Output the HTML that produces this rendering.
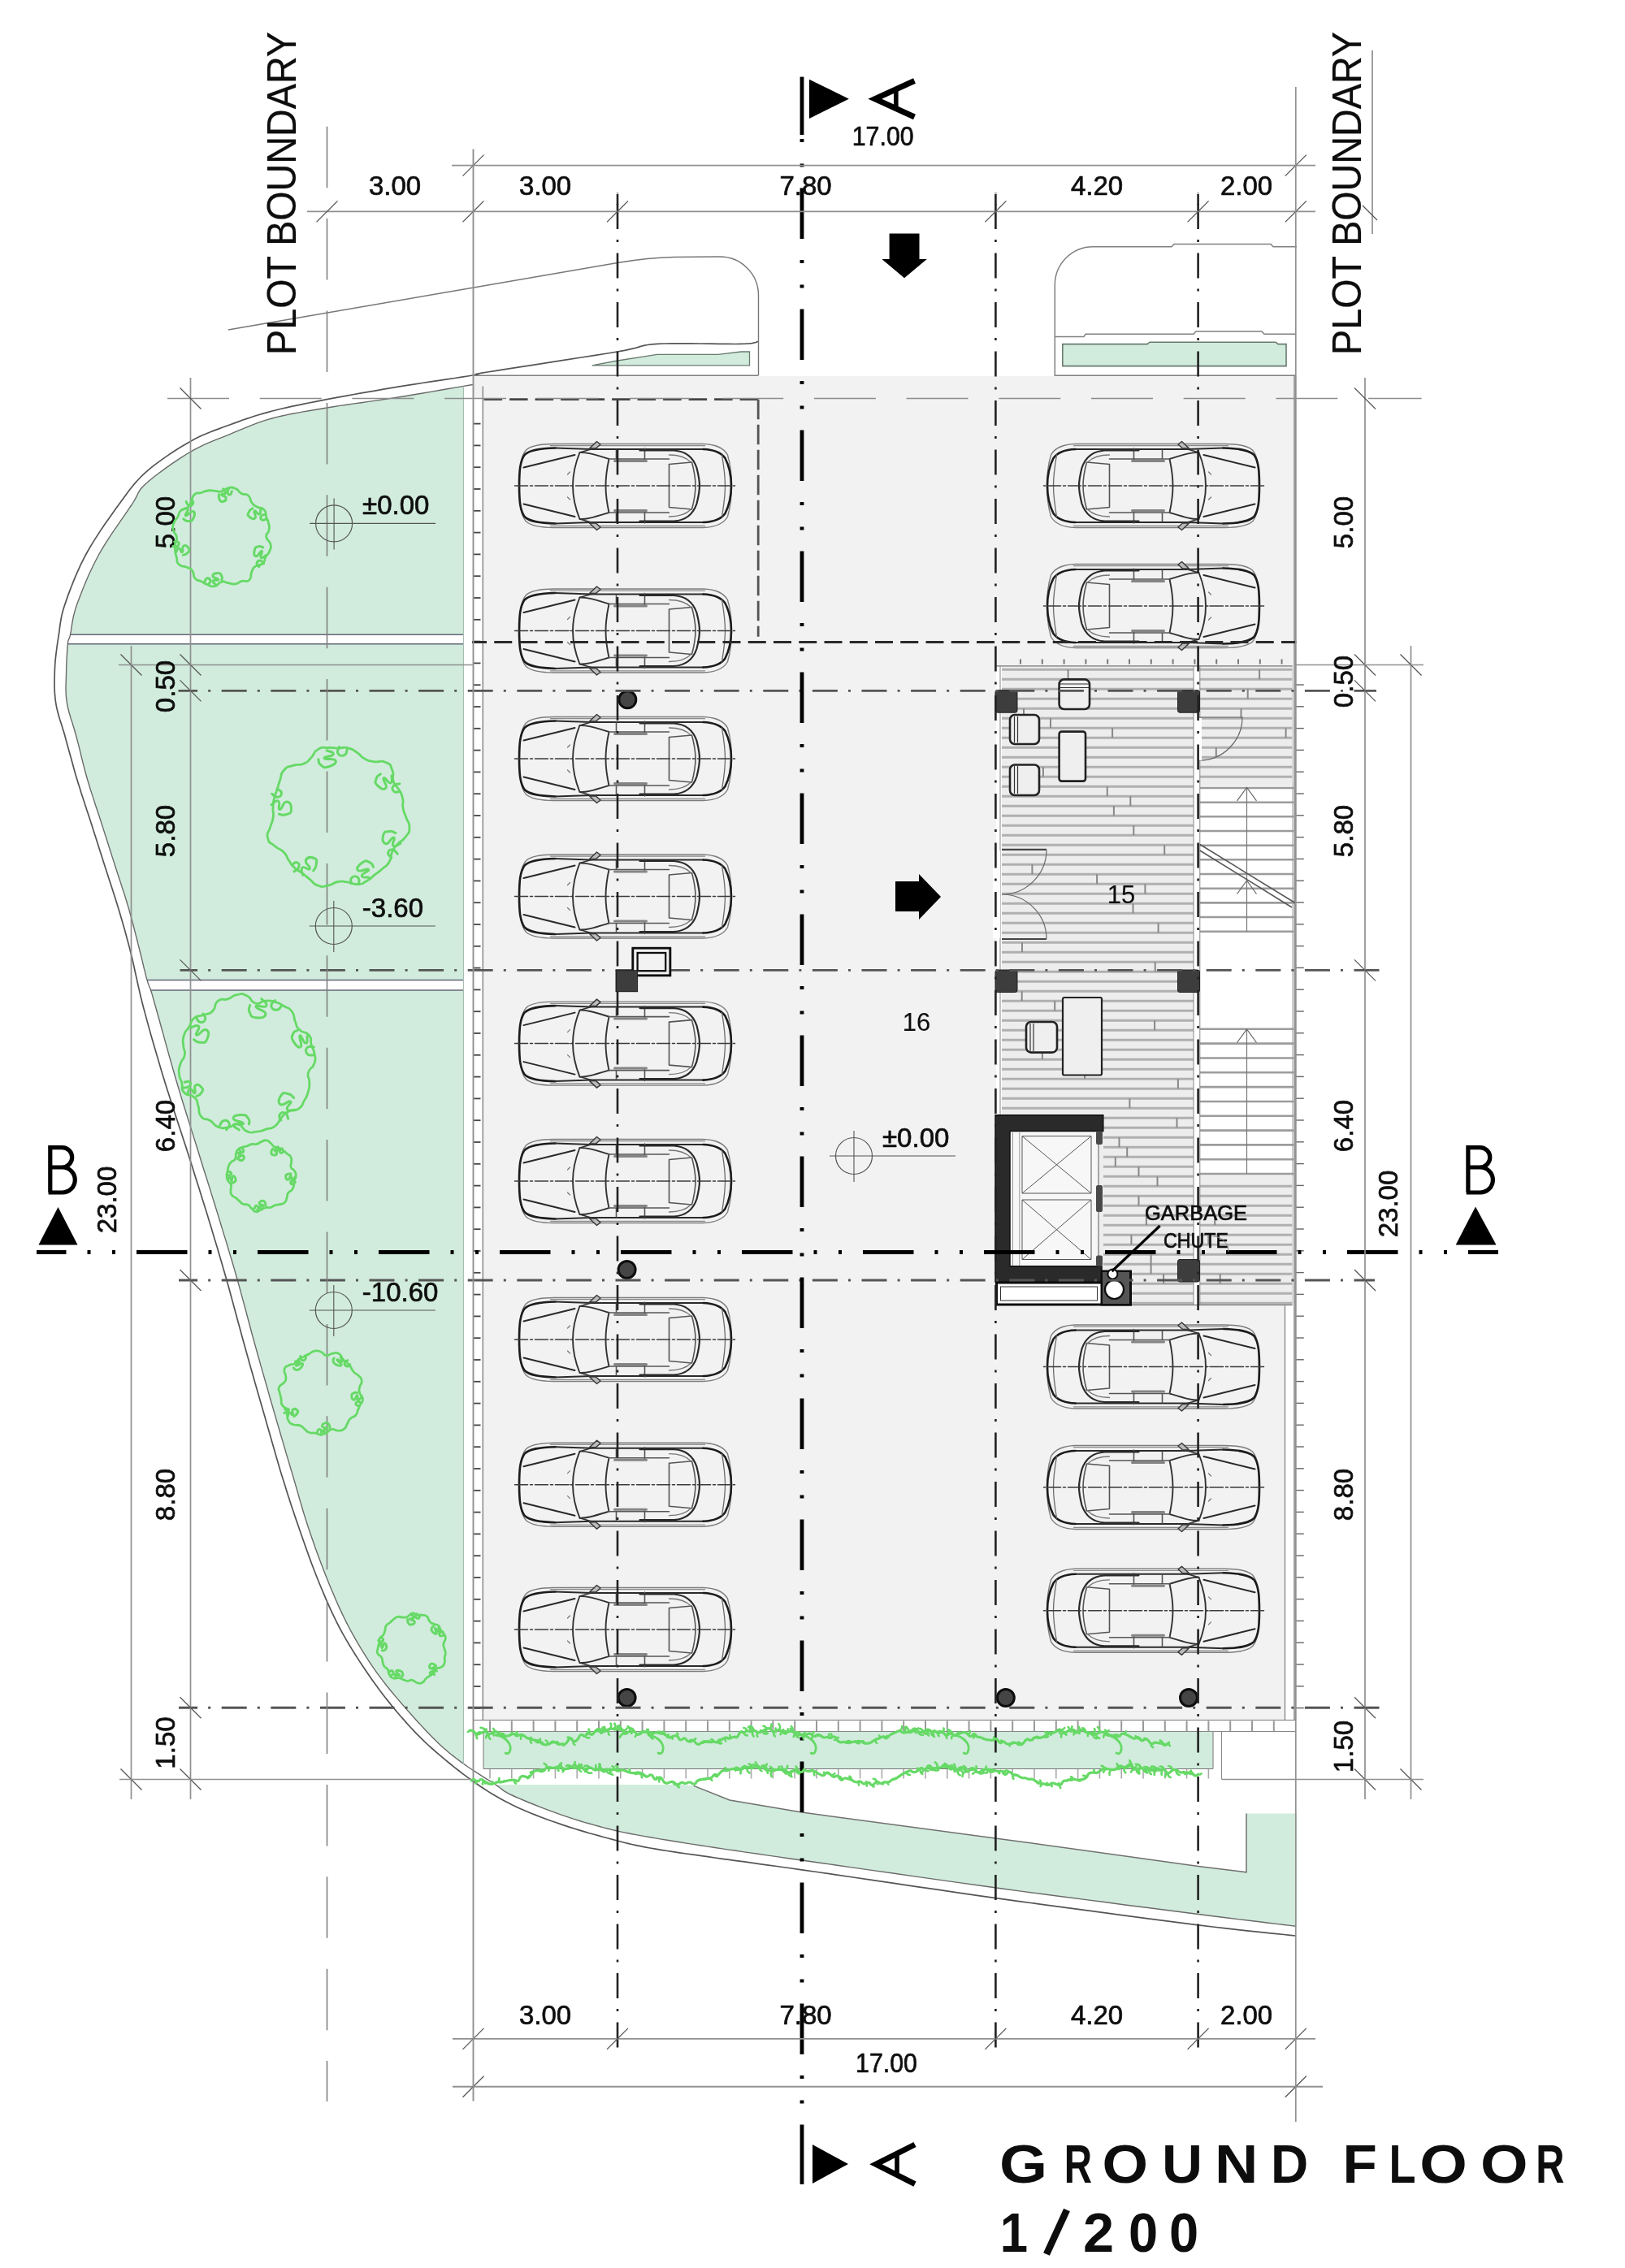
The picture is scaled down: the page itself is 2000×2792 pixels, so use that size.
<!DOCTYPE html>
<html><head><meta charset="utf-8"><title>Ground Floor 1/200</title>
<style>html,body{margin:0;padding:0;background:#fff}svg{display:block}text{font-family:"Liberation Sans",sans-serif}</style>
</head><body>
<svg width="2000" height="2792" viewBox="0 0 2000 2792">
<defs><filter id="soft" x="0" y="0" width="100%" height="100%" filterUnits="objectBoundingBox"><feGaussianBlur stdDeviation="0.65"/></filter></defs>
<rect width="2000" height="2792" fill="#fff"/>
<g filter="url(#soft)">
<rect width="2000" height="2792" fill="#fff"/>
<path d="M570.3,475.4 L561.8,476.9 L552.2,478.5 L542,480.3 L531.3,482.1 L520.4,484 L509.7,485.8 L499.5,487.5 L490,489 L480.9,490.4 L471.8,491.8 L462.7,493.1 L453.6,494.4 L444.5,495.7 L435.7,496.9 L426.9,498.2 L418.4,499.4 L410.2,500.7 L402.3,502 L394.7,503.3 L387.3,504.5 L380.1,505.7 L373.2,506.9 L366.4,508.1 L359.8,509.3 L353.4,510.6 L347.1,512 L341,513.4 L335,515 L329.2,516.7 L323.6,518.4 L318.3,520.2 L313.1,522.1 L308.1,524.1 L303.1,526.1 L298.2,528.1 L293.3,530.2 L288.4,532.2 L283.4,534.3 L278.4,536.3 L273.5,538.3 L268.7,540.2 L263.8,542.1 L259,544.1 L254.2,546.2 L249.3,548.4 L244.4,550.8 L239.4,553.4 L234.3,556.3 L228.9,559.5 L223.2,563.2 L217.2,567.1 L211.2,571.2 L205.2,575.4 L199.4,579.6 L193.8,583.8 L188.6,587.8 L184,591.5 L180,595 L176.8,598 L174.4,600.5 L172.6,602.7 L171.3,604.8 L170.1,606.8 L169.1,609 L167.9,611.4 L166.5,614.2 L164.5,617.5 L162,621.5 L158.8,626.2 L155.1,631.6 L151.1,637.4 L146.8,643.6 L142.3,650.1 L137.8,656.7 L133.4,663.4 L129.1,670.1 L125.1,676.7 L121.5,683 L118.2,689.3 L114.9,695.7 L111.8,702.3 L108.8,708.8 L106,715.3 L103.3,721.7 L100.8,727.9 L98.5,733.9 L96.4,739.4 L94.5,744.6 L92.9,749.4 L91.6,754 L90.5,758.3 L89.7,762.4 L89,766.2 L88.4,769.8 L87.9,773.1 L87.5,776.2 L87,779 L86.5,781.5 L86,783.5 L85.5,785 L85.2,785.9 L84.8,786.6 L84.6,787.1 L84.3,787.6 L84.1,788.2 L83.9,789.2 L83.6,790.6 L83.4,792.7 L83.1,795.4 L82.9,798.5 L82.7,802.1 L82.4,805.9 L82.2,809.9 L82,814 L81.8,818.2 L81.7,822.3 L81.6,826.3 L81.5,830 L81.4,833.5 L81.3,837 L81.2,840.4 L81.1,843.7 L81,847 L81.1,850.4 L81.2,853.8 L81.4,857.3 L81.8,860.9 L82.3,864.7 L83,868.6 L83.9,872.5 L84.9,876.5 L86.1,880.6 L87.3,884.7 L88.7,888.9 L90,893.3 L91.4,897.7 L92.7,902.3 L94,907 L95.3,911.9 L96.6,916.9 L97.9,922.1 L99.2,927.4 L100.5,932.8 L101.9,938.3 L103.3,943.8 L104.7,949.2 L106.2,954.7 L107.7,960 L109.3,965.3 L110.9,970.6 L112.6,975.9 L114.3,981.1 L116,986.4 L117.7,991.7 L119.5,997 L121.3,1002.2 L123,1007.5 L124.7,1012.8 L126.4,1018.1 L128.1,1023.4 L129.8,1028.7 L131.5,1034 L133.2,1039.2 L134.8,1044.5 L136.5,1049.8 L138.2,1055.1 L139.9,1060.4 L141.6,1065.7 L143.3,1071 L145,1076.3 L146.8,1081.6 L148.5,1086.9 L150.2,1092.2 L152,1097.4 L153.7,1102.7 L155.3,1108 L156.9,1113.3 L158.5,1118.6 L160,1124 L161.5,1129.5 L163,1135.1 L164.5,1140.7 L165.9,1146.2 L167.3,1151.7 L168.7,1157 L169.9,1162.1 L171.2,1167 L172.3,1171.5 L173.4,1175.7 L174.4,1179.8 L175.3,1183.7 L176.2,1187.3 L177,1190.8 L177.8,1194.1 L178.6,1197.2 L179.3,1200.1 L180,1202.9 L180.7,1205.4 L181.4,1207.6 L182,1209.5 L182.5,1211.1 L183,1212.5 L183.5,1213.7 L184,1214.8 L184.5,1216 L185,1217.2 L185.5,1218.6 L186,1220.2 L186.5,1221.7 L186.8,1222.7 L187.1,1223.6 L187.3,1224.4 L187.6,1225.4 L188,1226.8 L188.5,1228.7 L189.3,1231.5 L190.3,1235.2 L191.7,1240 L193.4,1246.2 L195.5,1253.5 L197.7,1261.8 L200.3,1270.9 L202.9,1280.6 L205.7,1290.6 L208.5,1300.8 L211.4,1310.9 L214.2,1320.7 L216.9,1330 L219.6,1339 L222.3,1348.1 L225.1,1357.2 L227.9,1366.3 L230.7,1375.3 L233.6,1384.4 L236.4,1393.4 L239.2,1402.4 L242,1411.2 L244.7,1420 L247.4,1428.7 L250.1,1437.5 L252.9,1446.2 L255.6,1454.8 L258.3,1463.4 L260.9,1471.9 L263.5,1480.3 L266.1,1488.5 L268.6,1496.6 L271,1504.5 L273.3,1512.1 L275.5,1519.4 L277.7,1526.4 L279.8,1533.3 L281.8,1540.1 L283.8,1546.9 L285.9,1553.8 L288,1560.9 L290.1,1568.3 L292.3,1576 L294.6,1584.1 L296.8,1592.4 L299.1,1600.9 L301.5,1609.5 L303.8,1618.3 L306.2,1627.2 L308.6,1636.2 L311,1645.2 L313.5,1654.3 L316,1663.3 L318.6,1672.5 L321.2,1681.9 L324,1691.6 L326.8,1701.3 L329.6,1711.1 L332.3,1720.7 L335,1730 L337.6,1739.1 L340.1,1747.8 L342.5,1755.9 L344.7,1763.5 L346.8,1770.6 L348.8,1777.4 L350.7,1783.8 L352.5,1790.1 L354.3,1796.1 L356.1,1802 L357.8,1808 L359.6,1813.9 L361.4,1820 L363.2,1826.1 L364.9,1832 L366.6,1837.9 L368.2,1843.7 L369.9,1849.4 L371.6,1855.2 L373.3,1861 L375.1,1866.9 L377,1872.9 L379,1879 L381.1,1885.3 L383.3,1891.7 L385.6,1898.2 L387.9,1904.9 L390.3,1911.5 L392.7,1918.1 L395.2,1924.8 L397.7,1931.3 L400.2,1937.7 L402.7,1944 L405.2,1950.2 L407.7,1956.3 L410.3,1962.3 L412.8,1968.3 L415.4,1974.2 L418.1,1980.1 L420.8,1985.9 L423.6,1991.7 L426.4,1997.4 L429.3,2003 L432.3,2008.6 L435.4,2014.2 L438.5,2019.7 L441.7,2025.2 L445,2030.6 L448.3,2035.9 L451.6,2041.2 L455,2046.3 L458.4,2051.4 L461.8,2056.3 L465.2,2061.1 L468.6,2065.7 L472,2070.2 L475.5,2074.7 L479,2079 L482.5,2083.3 L486.1,2087.6 L489.8,2091.9 L493.5,2096.2 L497.3,2100.6 L501.2,2105.1 L505.3,2109.8 L509.5,2114.5 L513.8,2119.2 L518.1,2123.9 L522.4,2128.5 L526.7,2133 L530.8,2137.3 L534.8,2141.3 L538.6,2145 L542.2,2148.4 L545.5,2151.5 L548.8,2154.3 L551.9,2157 L554.9,2159.5 L558,2161.9 L561.1,2164.3 L564.2,2166.6 L567.5,2169.1 L571,2171.6  L570.5,2172 L570.5,475.4 Z" fill="#d1ecdc"/>
<path d="M610,2197 L612.6,2198.8 L614.6,2200.2 L616.2,2201.5 L617.6,2202.6 L618.8,2203.6 L620.2,2204.6 L621.9,2205.7 L624,2206.9 L626.7,2208.3 L630.2,2210 L634.5,2212 L639.5,2214.1 L645.1,2216.5 L651,2219 L657.3,2221.5 L663.8,2224.1 L670.3,2226.6 L676.9,2229.1 L683.2,2231.4 L689.3,2233.6 L695.2,2235.6 L701.2,2237.6 L707.3,2239.6 L713.3,2241.5 L719.3,2243.3 L725.3,2245 L731.2,2246.7 L737.1,2248.3 L742.8,2249.9 L748.4,2251.3 L753.7,2252.6 L758.7,2253.8 L763.5,2254.9 L768.2,2255.9 L772.9,2256.8 L777.7,2257.7 L782.7,2258.6 L788,2259.6 L793.7,2260.6 L800,2261.7 L806.7,2262.9 L813.8,2264.1 L821.1,2265.3 L828.7,2266.5 L836.5,2267.8 L844.7,2269.1 L853.1,2270.4 L861.8,2271.7 L870.8,2273.1 L880,2274.5 L889,2275.9 L897.4,2277.1 L905.7,2278.3 L914.2,2279.6 L923.1,2280.9 L932.9,2282.3 L943.8,2283.9 L956.2,2285.6 L970.4,2287.7 L986.8,2290 L1005.7,2292.7 L1026.9,2295.8 L1050.1,2299.1 L1074.8,2302.6 L1100.6,2306.3 L1127.1,2310.1 L1153.8,2313.9 L1180.4,2317.6 L1206.5,2321.3 L1231.5,2324.7 L1256.4,2328.1 L1282.2,2331.5 L1308.5,2335 L1334.9,2338.4 L1361,2341.8 L1386.5,2345.2 L1411,2348.3 L1434.2,2351.3 L1455.6,2354 L1474.9,2356.5 L1492.4,2358.7 L1508.7,2360.8 L1523.6,2362.6 L1537.4,2364.3 L1549.9,2365.8 L1561.2,2367.2 L1571.3,2368.4 L1580.2,2369.5 L1587.9,2370.4 L1594.5,2371.2  L1596,2371.4 L1596,2232.4 L1534,2232.4 L1534,2304.8 L1474.9,2297.4 L1240,2264.9 L986.8,2231 L898,2216 L853.8,2198.4 L840,2197 L610,2197  Z" fill="#d1ecdc"/>
<rect x="60" y="781.3" width="511" height="11.4" fill="#fff"/>
<rect x="150" y="1206.5" width="421" height="12.5" fill="#fff"/>
<rect x="583" y="463" width="1011.5" height="28" fill="#f2f2f2"/>
<rect x="594" y="490" width="1000.5" height="1117" fill="#f2f2f2"/>
<rect x="594" y="1606" width="987.5" height="511" fill="#f2f2f2"/>
<path d="M728.7,449.8 L760,444 L808.8,436.3 L883.8,436.3 L912,433 L922.5,433 L922.5,449.8 Z" fill="#d1ecdc" stroke="#6a7a70" stroke-width="1.3"/>
<path d="M1307.8,423.6 L1412,423.6 L1415,421.2 L1570,421.2 L1573,423.6 L1583,423.6 L1583,450.6 L1307.8,450.6 Z" fill="#d1ecdc" stroke="#6a7a70" stroke-width="1.6"/>
<rect x="583" y="2117.5" width="1012" height="14" fill="#fff"/>
<rect x="595" y="2131.5" width="898" height="46" fill="#d1ecdc"/>
<path d="M933.5,420.3 L932.6,420.5 L931.9,420.8 L931.2,421.1 L930.4,421.5 L929.2,421.8 L927.5,422.2 L925.1,422.6 L921.9,422.9 L917.6,423.2 L912,423.4 L904.7,423.5 L895.7,423.4 L885.3,423.3 L874,423.2 L862.1,423 L850.1,422.9 L838.4,422.8 L827.3,422.8 L817.3,423 L808.8,423.4 L802.2,423.9 L797.3,424.5 L793.6,425.1 L790.6,425.8 L787.8,426.6 L784.7,427.6 L780.9,428.7 L775.7,429.9 L768.8,431.4 L759.7,433 L747.6,435 L732.6,437.4 L715.5,440 L697,442.9 L677.9,445.9 L659,448.8 L641,451.6 L624.6,454.1 L610.7,456.3 L600,458 L592.8,459.2 L588.5,460 L586.5,460.4 L586.1,460.6 L586.8,460.7 L587.7,460.7 L588.4,460.7 L588.1,460.9 L586.2,461.3 L582,462 L575.8,463 L568.3,464.2 L559.7,465.5 L550.3,466.9 L540.4,468.4 L530,469.9 L519.6,471.5 L509.3,473.1 L499.4,474.7 L490,476.2 L481,477.7 L471.9,479.2 L462.7,480.8 L453.6,482.4 L444.6,483.9 L435.7,485.5 L427,487.1 L418.5,488.7 L410.2,490.2 L402.3,491.7 L394.7,493.2 L387.3,494.6 L380.1,496 L373.2,497.4 L366.4,498.8 L359.8,500.2 L353.4,501.6 L347.1,503 L341,504.5 L335,506 L329.2,507.6 L323.6,509.1 L318.3,510.7 L313.1,512.3 L308.1,514 L303.1,515.6 L298.2,517.3 L293.3,519.1 L288.4,520.9 L283.4,522.7 L278.4,524.5 L273.5,526.3 L268.7,528.1 L263.8,529.9 L259,531.8 L254.2,533.7 L249.3,535.8 L244.4,538.1 L239.4,540.6 L234.3,543.4 L229,546.5 L223.4,549.8 L217.8,553.3 L212,557 L206.2,560.9 L200.5,564.9 L195,568.9 L189.6,572.9 L184.6,576.9 L180,580.9 L175.8,584.7 L172,588.5 L168.5,592.2 L165.3,595.9 L162.1,599.7 L159.1,603.6 L156,607.7 L152.9,612 L149.6,616.6 L146,621.5 L142.1,626.8 L138.1,632.5 L133.9,638.4 L129.6,644.6 L125.2,650.9 L121,657.4 L116.8,663.9 L112.8,670.4 L109,676.8 L105.5,683 L102.2,689.3 L99.1,695.7 L96.1,702.3 L93.2,708.8 L90.5,715.3 L88,721.7 L85.6,727.9 L83.4,733.9 L81.5,739.4 L79.7,744.6 L78.2,749.3 L77,753.5 L76,757.4 L75.3,761 L74.7,764.4 L74.2,767.6 L73.7,770.9 L73.3,774.3 L72.9,777.8 L72.3,781.5 L71.7,785.4 L71.1,789.4 L70.5,793.4 L69.9,797.5 L69.4,801.6 L68.9,805.7 L68.4,809.8 L68,814 L67.7,818.1 L67.5,822.3 L67.3,826.5 L67.2,830.7 L67.1,834.9 L67,839.1 L67,843.4 L67.1,847.7 L67.3,851.9 L67.6,856.2 L68,860.5 L68.6,864.7 L69.3,868.9 L70.2,873 L71.2,877.1 L72.3,881.1 L73.5,885.2 L74.8,889.3 L76.2,893.5 L77.5,897.9 L78.9,902.3 L80.2,907 L81.5,911.9 L82.9,916.9 L84.3,922.1 L85.8,927.4 L87.3,932.8 L88.8,938.3 L90.3,943.8 L91.8,949.2 L93.4,954.7 L95,960 L96.6,965.3 L98.3,970.6 L99.9,975.9 L101.6,981.1 L103.4,986.4 L105.1,991.7 L106.8,997 L108.6,1002.2 L110.3,1007.5 L112,1012.8 L113.7,1018.1 L115.4,1023.4 L117.1,1028.7 L118.8,1034 L120.5,1039.2 L122.1,1044.5 L123.8,1049.8 L125.5,1055.1 L127.2,1060.4 L128.9,1065.7 L130.6,1071 L132.3,1076.3 L134,1081.6 L135.8,1086.9 L137.5,1092.2 L139.2,1097.4 L140.9,1102.7 L142.6,1108 L144.2,1113.3 L145.8,1118.6 L147.4,1123.8 L148.9,1128.9 L150.4,1134 L151.8,1139 L153.3,1144.1 L154.7,1149.2 L156.1,1154.5 L157.6,1159.9 L159.1,1165.6 L160.6,1171.5 L162.1,1177.6 L163.6,1183.9 L165,1190.2 L166.4,1196.7 L167.9,1203.4 L169.4,1210.3 L171,1217.4 L172.7,1224.7 L174.5,1232.2 L176.5,1240 L178.7,1248.1 L181,1256.6 L183.4,1265.4 L185.9,1274.5 L188.6,1283.7 L191.3,1293 L194,1302.3 L196.8,1311.7 L199.5,1320.9 L202.3,1330 L205.1,1339 L208,1348.1 L210.9,1357.2 L213.8,1366.3 L216.8,1375.3 L219.8,1384.4 L222.8,1393.4 L225.7,1402.4 L228.6,1411.2 L231.4,1420 L234.2,1428.7 L237,1437.5 L239.7,1446.2 L242.4,1454.8 L245.2,1463.4 L247.8,1471.9 L250.4,1480.3 L253,1488.5 L255.5,1496.6 L257.9,1504.5 L260.2,1512.1 L262.4,1519.4 L264.5,1526.4 L266.6,1533.3 L268.6,1540.1 L270.6,1546.9 L272.6,1553.8 L274.7,1560.9 L276.8,1568.3 L279,1576 L281.3,1584.1 L283.6,1592.4 L285.9,1600.9 L288.2,1609.5 L290.6,1618.3 L293,1627.2 L295.5,1636.2 L297.9,1645.2 L300.4,1654.3 L302.9,1663.3 L305.5,1672.5 L308.1,1681.9 L310.9,1691.6 L313.6,1701.3 L316.4,1711.1 L319.2,1720.7 L321.9,1730 L324.5,1739.1 L327,1747.8 L329.3,1755.9 L331.5,1763.5 L333.5,1770.6 L335.5,1777.4 L337.3,1783.8 L339.1,1790.1 L340.8,1796.1 L342.6,1802 L344.3,1808 L346.1,1813.9 L348,1820 L349.9,1826.1 L351.8,1832 L353.6,1837.9 L355.5,1843.7 L357.3,1849.4 L359.2,1855.2 L361.2,1861 L363.1,1866.9 L365.2,1872.9 L367.3,1879 L369.5,1885.3 L371.7,1891.7 L374,1898.2 L376.3,1904.9 L378.7,1911.5 L381.1,1918.1 L383.5,1924.8 L386,1931.3 L388.5,1937.7 L391,1944 L393.5,1950.2 L396,1956.3 L398.6,1962.3 L401.1,1968.3 L403.7,1974.2 L406.3,1980.1 L409,1985.9 L411.8,1991.7 L414.6,1997.4 L417.5,2003 L420.5,2008.6 L423.6,2014.1 L426.7,2019.6 L429.9,2025 L433.2,2030.4 L436.5,2035.7 L439.8,2040.9 L443.2,2046.1 L446.6,2051.2 L450,2056.3 L453.4,2061.3 L456.8,2066.2 L460.2,2071 L463.7,2075.8 L467.1,2080.5 L470.7,2085.2 L474.2,2089.8 L477.9,2094.4 L481.6,2099 L485.4,2103.6 L489.2,2108.2 L493.1,2112.7 L497,2117.1 L500.9,2121.6 L504.9,2126 L509,2130.4 L513.2,2134.8 L517.6,2139.2 L522.1,2143.6 L526.8,2148 L531.8,2152.5 L537,2157.1 L542.4,2161.7 L548,2166.4 L553.6,2171 L559.3,2175.6 L565,2180 L570.6,2184.3 L576.1,2188.4 L581.4,2192.2 L586.5,2195.8 L591.4,2199.2 L596.1,2202.3 L600.8,2205.4 L605.5,2208.3 L610.2,2211.1 L615,2213.8 L619.9,2216.5 L624.9,2219.1 L630.2,2221.8 L635.7,2224.4 L641.4,2227 L647.2,2229.5 L653.1,2232 L659.1,2234.4 L665.2,2236.7 L671.2,2239 L677.3,2241.2 L683.3,2243.3 L689.3,2245.4 L695.2,2247.4 L701.2,2249.4 L707.3,2251.3 L713.3,2253.1 L719.3,2254.9 L725.3,2256.7 L731.2,2258.3 L737.1,2259.9 L742.8,2261.5 L748.4,2263 L753.7,2264.4 L758.7,2265.8 L763.5,2267 L768.2,2268.2 L772.9,2269.3 L777.7,2270.5 L782.7,2271.6 L788,2272.7 L793.7,2273.8 L800,2275 L806.7,2276.2 L813.8,2277.4 L821.1,2278.5 L828.7,2279.7 L836.5,2280.8 L844.7,2282 L853.1,2283.2 L861.8,2284.4 L870.8,2285.7 L880,2287 L889,2288.3 L897.4,2289.4 L905.7,2290.6 L914.2,2291.7 L923.1,2292.9 L932.9,2294.3 L943.8,2295.8 L956.2,2297.5 L970.4,2299.5 L986.8,2301.8 L1005.7,2304.5 L1026.9,2307.6 L1050,2311 L1074.6,2314.7 L1100.3,2318.4 L1126.7,2322.3 L1153.4,2326.2 L1180,2330.1 L1206,2333.8 L1231,2337.3 L1256,2340.8 L1281.8,2344.3 L1308.1,2347.9 L1334.5,2351.4 L1360.7,2354.9 L1386.3,2358.3 L1410.9,2361.6 L1434.1,2364.6 L1455.5,2367.3 L1474.9,2369.8 L1492.4,2372 L1508.7,2373.9 L1523.7,2375.6 L1537.4,2377.1 L1549.9,2378.4 L1561.2,2379.6 L1571.3,2380.6 L1580.2,2381.5 L1587.9,2382.3 L1594.5,2383 " fill="none" stroke="#555" stroke-width="1.7"/>
<path d="M583,473.2 L577.4,474.2 L570.3,475.4 L561.8,476.9 L552.2,478.5 L542,480.3 L531.3,482.1 L520.4,484 L509.7,485.8 L499.5,487.5 L490,489 L480.9,490.4 L471.8,491.8 L462.7,493.1 L453.6,494.4 L444.5,495.7 L435.7,496.9 L426.9,498.2 L418.4,499.4 L410.2,500.7 L402.3,502 L394.7,503.3 L387.3,504.5 L380.1,505.7 L373.2,506.9 L366.4,508.1 L359.8,509.3 L353.4,510.6 L347.1,512 L341,513.4 L335,515 L329.2,516.7 L323.6,518.4 L318.3,520.2 L313.1,522.1 L308.1,524.1 L303.1,526.1 L298.2,528.1 L293.3,530.2 L288.4,532.2 L283.4,534.3 L278.4,536.3 L273.5,538.3 L268.7,540.2 L263.8,542.1 L259,544.1 L254.2,546.2 L249.3,548.4 L244.4,550.8 L239.4,553.4 L234.3,556.3 L228.9,559.5 L223.2,563.2 L217.2,567.1 L211.2,571.2 L205.2,575.4 L199.4,579.6 L193.8,583.8 L188.6,587.8 L184,591.5 L180,595 L176.8,598 L174.4,600.5 L172.6,602.7 L171.3,604.8 L170.1,606.8 L169.1,609 L167.9,611.4 L166.5,614.2 L164.5,617.5 L162,621.5 L158.8,626.2 L155.1,631.6 L151.1,637.4 L146.8,643.6 L142.3,650.1 L137.8,656.7 L133.4,663.4 L129.1,670.1 L125.1,676.7 L121.5,683 L118.2,689.3 L114.9,695.7 L111.8,702.3 L108.8,708.8 L106,715.3 L103.3,721.7 L100.8,727.9 L98.5,733.9 L96.4,739.4 L94.5,744.6 L92.9,749.4 L91.6,754 L90.5,758.3 L89.7,762.4 L89,766.2 L88.4,769.8 L87.9,773.1 L87.5,776.2 L87,779 L86.5,781.5 L86,783.5 L85.5,785 L85.2,785.9 L84.8,786.6 L84.6,787.1 L84.3,787.6 L84.1,788.2 L83.9,789.2 L83.6,790.6 L83.4,792.7 L83.1,795.4 L82.9,798.5 L82.7,802.1 L82.4,805.9 L82.2,809.9 L82,814 L81.8,818.2 L81.7,822.3 L81.6,826.3 L81.5,830 L81.4,833.5 L81.3,837 L81.2,840.4 L81.1,843.7 L81,847 L81.1,850.4 L81.2,853.8 L81.4,857.3 L81.8,860.9 L82.3,864.7 L83,868.6 L83.9,872.5 L84.9,876.5 L86.1,880.6 L87.3,884.7 L88.7,888.9 L90,893.3 L91.4,897.7 L92.7,902.3 L94,907 L95.3,911.9 L96.6,916.9 L97.9,922.1 L99.2,927.4 L100.5,932.8 L101.9,938.3 L103.3,943.8 L104.7,949.2 L106.2,954.7 L107.7,960 L109.3,965.3 L110.9,970.6 L112.6,975.9 L114.3,981.1 L116,986.4 L117.7,991.7 L119.5,997 L121.3,1002.2 L123,1007.5 L124.7,1012.8 L126.4,1018.1 L128.1,1023.4 L129.8,1028.7 L131.5,1034 L133.2,1039.2 L134.8,1044.5 L136.5,1049.8 L138.2,1055.1 L139.9,1060.4 L141.6,1065.7 L143.3,1071 L145,1076.3 L146.8,1081.6 L148.5,1086.9 L150.2,1092.2 L152,1097.4 L153.7,1102.7 L155.3,1108 L156.9,1113.3 L158.5,1118.6 L160,1124 L161.5,1129.5 L163,1135.1 L164.5,1140.7 L165.9,1146.2 L167.3,1151.7 L168.7,1157 L169.9,1162.1 L171.2,1167 L172.3,1171.5 L173.4,1175.7 L174.4,1179.8 L175.3,1183.7 L176.2,1187.3 L177,1190.8 L177.8,1194.1 L178.6,1197.2 L179.3,1200.1 L180,1202.9 L180.7,1205.4 L181.4,1207.6 L182,1209.5 L182.5,1211.1 L183,1212.5 L183.5,1213.7 L184,1214.8 L184.5,1216 L185,1217.2 L185.5,1218.6 L186,1220.2 L186.5,1221.7 L186.8,1222.7 L187.1,1223.6 L187.3,1224.4 L187.6,1225.4 L188,1226.8 L188.5,1228.7 L189.3,1231.5 L190.3,1235.2 L191.7,1240 L193.4,1246.2 L195.5,1253.5 L197.7,1261.8 L200.3,1270.9 L202.9,1280.6 L205.7,1290.6 L208.5,1300.8 L211.4,1310.9 L214.2,1320.7 L216.9,1330 L219.6,1339 L222.3,1348.1 L225.1,1357.2 L227.9,1366.3 L230.7,1375.3 L233.6,1384.4 L236.4,1393.4 L239.2,1402.4 L242,1411.2 L244.7,1420 L247.4,1428.7 L250.1,1437.5 L252.9,1446.2 L255.6,1454.8 L258.3,1463.4 L260.9,1471.9 L263.5,1480.3 L266.1,1488.5 L268.6,1496.6 L271,1504.5 L273.3,1512.1 L275.5,1519.4 L277.7,1526.4 L279.8,1533.3 L281.8,1540.1 L283.8,1546.9 L285.9,1553.8 L288,1560.9 L290.1,1568.3 L292.3,1576 L294.6,1584.1 L296.8,1592.4 L299.1,1600.9 L301.5,1609.5 L303.8,1618.3 L306.2,1627.2 L308.6,1636.2 L311,1645.2 L313.5,1654.3 L316,1663.3 L318.6,1672.5 L321.2,1681.9 L324,1691.6 L326.8,1701.3 L329.6,1711.1 L332.3,1720.7 L335,1730 L337.6,1739.1 L340.1,1747.8 L342.5,1755.9 L344.7,1763.5 L346.8,1770.6 L348.8,1777.4 L350.7,1783.8 L352.5,1790.1 L354.3,1796.1 L356.1,1802 L357.8,1808 L359.6,1813.9 L361.4,1820 L363.2,1826.1 L364.9,1832 L366.6,1837.9 L368.2,1843.7 L369.9,1849.4 L371.6,1855.2 L373.3,1861 L375.1,1866.9 L377,1872.9 L379,1879 L381.1,1885.3 L383.3,1891.7 L385.6,1898.2 L387.9,1904.9 L390.3,1911.5 L392.7,1918.1 L395.2,1924.8 L397.7,1931.3 L400.2,1937.7 L402.7,1944 L405.2,1950.2 L407.7,1956.3 L410.3,1962.3 L412.8,1968.3 L415.4,1974.2 L418.1,1980.1 L420.8,1985.9 L423.6,1991.7 L426.4,1997.4 L429.3,2003 L432.3,2008.6 L435.4,2014.2 L438.5,2019.7 L441.7,2025.2 L445,2030.6 L448.3,2035.9 L451.6,2041.2 L455,2046.3 L458.4,2051.4 L461.8,2056.3 L465.2,2061.1 L468.6,2065.7 L472,2070.2 L475.5,2074.7 L479,2079 L482.5,2083.3 L486.1,2087.6 L489.8,2091.9 L493.5,2096.2 L497.3,2100.6 L501.2,2105.1 L505.3,2109.8 L509.5,2114.5 L513.8,2119.2 L518.1,2123.9 L522.4,2128.5 L526.7,2133 L530.8,2137.3 L534.8,2141.3 L538.6,2145 L542.2,2148.4 L545.5,2151.5 L548.8,2154.3 L551.9,2157 L554.9,2159.5 L558,2161.9 L561.1,2164.3 L564.2,2166.6 L567.5,2169.1 L571,2171.6 L574.7,2174.2 L578.7,2177 L582.8,2179.7 L587,2182.4 L591.3,2185.1 L595.4,2187.8 L599.5,2190.3 L603.3,2192.7 L606.8,2195 L610,2197 L612.6,2198.8 L614.6,2200.2 L616.2,2201.5 L617.6,2202.6 L618.8,2203.6 L620.2,2204.6 L621.9,2205.7 L624,2206.9 L626.7,2208.3 L630.2,2210 L634.5,2212 L639.5,2214.1 L645.1,2216.5 L651,2219 L657.3,2221.5 L663.8,2224.1 L670.3,2226.6 L676.9,2229.1 L683.2,2231.4 L689.3,2233.6 L695.2,2235.6 L701.2,2237.6 L707.3,2239.6 L713.3,2241.5 L719.3,2243.3 L725.3,2245 L731.2,2246.7 L737.1,2248.3 L742.8,2249.9 L748.4,2251.3 L753.7,2252.6 L758.7,2253.8 L763.5,2254.9 L768.2,2255.9 L772.9,2256.8 L777.7,2257.7 L782.7,2258.6 L788,2259.6 L793.7,2260.6 L800,2261.7 L806.7,2262.9 L813.8,2264.1 L821.1,2265.3 L828.7,2266.5 L836.5,2267.8 L844.7,2269.1 L853.1,2270.4 L861.8,2271.7 L870.8,2273.1 L880,2274.5 L889,2275.9 L897.4,2277.1 L905.7,2278.3 L914.2,2279.6 L923.1,2280.9 L932.9,2282.3 L943.8,2283.9 L956.2,2285.6 L970.4,2287.7 L986.8,2290 L1005.7,2292.7 L1026.9,2295.8 L1050.1,2299.1 L1074.8,2302.6 L1100.6,2306.3 L1127.1,2310.1 L1153.8,2313.9 L1180.4,2317.6 L1206.5,2321.3 L1231.5,2324.7 L1256.4,2328.1 L1282.2,2331.5 L1308.5,2335 L1334.9,2338.4 L1361,2341.8 L1386.5,2345.2 L1411,2348.3 L1434.2,2351.3 L1455.6,2354 L1474.9,2356.5 L1492.4,2358.7 L1508.7,2360.8 L1523.6,2362.6 L1537.4,2364.3 L1549.9,2365.8 L1561.2,2367.2 L1571.3,2368.4 L1580.2,2369.5 L1587.9,2370.4 L1594.5,2371.2 " fill="none" stroke="#6a6a6a" stroke-width="1.4"/>
<line x1="86.5" y1="781.3" x2="571" y2="781.3" stroke="#667" stroke-width="1.5" />
<line x1="83.4" y1="792.7" x2="571" y2="792.7" stroke="#667" stroke-width="1.5" />
<line x1="181" y1="1206.5" x2="571" y2="1206.5" stroke="#667" stroke-width="1.5" />
<line x1="185.5" y1="1219" x2="571" y2="1219" stroke="#667" stroke-width="1.5" />
<line x1="570.5" y1="475.4" x2="570.5" y2="2172" stroke="#a9bdb1" stroke-width="1.2" />
<path d="M281,406 L583,354 L760,323.5 C790,318.5 805,317 830,316.5 L886,316 A47.5,47.5 0 0 1 933.5,363.5 L933.5,462" fill="none" stroke="#777" stroke-width="1.4"/>
<line x1="582.6" y1="462.2" x2="933.5" y2="462.2" stroke="#808080" stroke-width="1.5" />
<path d="M1596,303.8 L1567,303.8 L1564,300.4 L1445,300.4 L1442,303.8 L1345.3,303.8 A47,47 0 0 0 1298.3,350.8 L1298.3,462.2 L1594.8,462.2" fill="none" stroke="#808080" stroke-width="1.5"/>
<path d="M1298.3,414.4 L1334,414.4 L1336,411.3 L1469,411.3 L1472,408 L1553,408 L1556,411.3 L1594.8,411.3" fill="none" stroke="#808080" stroke-width="1.5"/>
<path d="M853.8,2198.4 L898,2216 L986.8,2231 L1240,2264.9 L1474.9,2297.4 L1534,2304.8 L1534,2232.4" fill="none" stroke="#707070" stroke-width="1.5"/>
<line x1="582.5" y1="521.6" x2="591.5" y2="521.6" stroke="#444" stroke-width="1.8" />
<line x1="582.5" y1="548.4" x2="591.5" y2="548.4" stroke="#444" stroke-width="1.8" />
<line x1="582.5" y1="575.2" x2="591.5" y2="575.2" stroke="#444" stroke-width="1.8" />
<line x1="582.5" y1="602" x2="591.5" y2="602" stroke="#444" stroke-width="1.8" />
<line x1="582.5" y1="628.8" x2="591.5" y2="628.8" stroke="#444" stroke-width="1.8" />
<line x1="582.5" y1="655.6" x2="591.5" y2="655.6" stroke="#444" stroke-width="1.8" />
<line x1="582.5" y1="682.4" x2="591.5" y2="682.4" stroke="#444" stroke-width="1.8" />
<line x1="582.5" y1="709.2" x2="591.5" y2="709.2" stroke="#444" stroke-width="1.8" />
<line x1="582.5" y1="736" x2="591.5" y2="736" stroke="#444" stroke-width="1.8" />
<line x1="582.5" y1="762.8" x2="591.5" y2="762.8" stroke="#444" stroke-width="1.8" />
<line x1="582.5" y1="789.6" x2="591.5" y2="789.6" stroke="#444" stroke-width="1.8" />
<line x1="582.5" y1="816.4" x2="591.5" y2="816.4" stroke="#444" stroke-width="1.8" />
<line x1="582.5" y1="843.2" x2="591.5" y2="843.2" stroke="#444" stroke-width="1.8" />
<line x1="582.5" y1="870" x2="591.5" y2="870" stroke="#444" stroke-width="1.8" />
<line x1="582.5" y1="896.8" x2="591.5" y2="896.8" stroke="#444" stroke-width="1.8" />
<line x1="582.5" y1="923.6" x2="591.5" y2="923.6" stroke="#444" stroke-width="1.8" />
<line x1="582.5" y1="950.4" x2="591.5" y2="950.4" stroke="#444" stroke-width="1.8" />
<line x1="582.5" y1="977.2" x2="591.5" y2="977.2" stroke="#444" stroke-width="1.8" />
<line x1="582.5" y1="1004" x2="591.5" y2="1004" stroke="#444" stroke-width="1.8" />
<line x1="582.5" y1="1030.8" x2="591.5" y2="1030.8" stroke="#444" stroke-width="1.8" />
<line x1="582.5" y1="1057.6" x2="591.5" y2="1057.6" stroke="#444" stroke-width="1.8" />
<line x1="582.5" y1="1084.4" x2="591.5" y2="1084.4" stroke="#444" stroke-width="1.8" />
<line x1="582.5" y1="1111.2" x2="591.5" y2="1111.2" stroke="#444" stroke-width="1.8" />
<line x1="582.5" y1="1138" x2="591.5" y2="1138" stroke="#444" stroke-width="1.8" />
<line x1="582.5" y1="1164.8" x2="591.5" y2="1164.8" stroke="#444" stroke-width="1.8" />
<line x1="582.5" y1="1191.6" x2="591.5" y2="1191.6" stroke="#444" stroke-width="1.8" />
<line x1="582.5" y1="1218.4" x2="591.5" y2="1218.4" stroke="#444" stroke-width="1.8" />
<line x1="582.5" y1="1245.2" x2="591.5" y2="1245.2" stroke="#444" stroke-width="1.8" />
<line x1="582.5" y1="1272" x2="591.5" y2="1272" stroke="#444" stroke-width="1.8" />
<line x1="582.5" y1="1298.8" x2="591.5" y2="1298.8" stroke="#444" stroke-width="1.8" />
<line x1="582.5" y1="1325.6" x2="591.5" y2="1325.6" stroke="#444" stroke-width="1.8" />
<line x1="582.5" y1="1352.4" x2="591.5" y2="1352.4" stroke="#444" stroke-width="1.8" />
<line x1="582.5" y1="1379.2" x2="591.5" y2="1379.2" stroke="#444" stroke-width="1.8" />
<line x1="582.5" y1="1406" x2="591.5" y2="1406" stroke="#444" stroke-width="1.8" />
<line x1="582.5" y1="1432.8" x2="591.5" y2="1432.8" stroke="#444" stroke-width="1.8" />
<line x1="582.5" y1="1459.6" x2="591.5" y2="1459.6" stroke="#444" stroke-width="1.8" />
<line x1="582.5" y1="1486.4" x2="591.5" y2="1486.4" stroke="#444" stroke-width="1.8" />
<line x1="582.5" y1="1513.2" x2="591.5" y2="1513.2" stroke="#444" stroke-width="1.8" />
<line x1="582.5" y1="1540" x2="591.5" y2="1540" stroke="#444" stroke-width="1.8" />
<line x1="582.5" y1="1566.8" x2="591.5" y2="1566.8" stroke="#444" stroke-width="1.8" />
<line x1="582.5" y1="1593.6" x2="591.5" y2="1593.6" stroke="#444" stroke-width="1.8" />
<line x1="582.5" y1="1620.4" x2="591.5" y2="1620.4" stroke="#444" stroke-width="1.8" />
<line x1="582.5" y1="1647.2" x2="591.5" y2="1647.2" stroke="#444" stroke-width="1.8" />
<line x1="582.5" y1="1674" x2="591.5" y2="1674" stroke="#444" stroke-width="1.8" />
<line x1="582.5" y1="1700.8" x2="591.5" y2="1700.8" stroke="#444" stroke-width="1.8" />
<line x1="582.5" y1="1727.6" x2="591.5" y2="1727.6" stroke="#444" stroke-width="1.8" />
<line x1="582.5" y1="1754.4" x2="591.5" y2="1754.4" stroke="#444" stroke-width="1.8" />
<line x1="582.5" y1="1781.2" x2="591.5" y2="1781.2" stroke="#444" stroke-width="1.8" />
<line x1="582.5" y1="1808" x2="591.5" y2="1808" stroke="#444" stroke-width="1.8" />
<line x1="582.5" y1="1834.8" x2="591.5" y2="1834.8" stroke="#444" stroke-width="1.8" />
<line x1="582.5" y1="1861.6" x2="591.5" y2="1861.6" stroke="#444" stroke-width="1.8" />
<line x1="582.5" y1="1888.4" x2="591.5" y2="1888.4" stroke="#444" stroke-width="1.8" />
<line x1="582.5" y1="1915.2" x2="591.5" y2="1915.2" stroke="#444" stroke-width="1.8" />
<line x1="582.5" y1="1942" x2="591.5" y2="1942" stroke="#444" stroke-width="1.8" />
<line x1="582.5" y1="1968.8" x2="591.5" y2="1968.8" stroke="#444" stroke-width="1.8" />
<line x1="582.5" y1="1995.6" x2="591.5" y2="1995.6" stroke="#444" stroke-width="1.8" />
<line x1="582.5" y1="2022.4" x2="591.5" y2="2022.4" stroke="#444" stroke-width="1.8" />
<line x1="582.5" y1="2049.2" x2="591.5" y2="2049.2" stroke="#444" stroke-width="1.8" />
<line x1="582.5" y1="2076" x2="591.5" y2="2076" stroke="#444" stroke-width="1.8" />
<line x1="582.5" y1="2102.8" x2="591.5" y2="2102.8" stroke="#444" stroke-width="1.8" />
<line x1="1594.8" y1="843" x2="1604.8" y2="843" stroke="#666" stroke-width="1.4" />
<line x1="1594.8" y1="869.8" x2="1604.8" y2="869.8" stroke="#666" stroke-width="1.4" />
<line x1="1594.8" y1="896.6" x2="1604.8" y2="896.6" stroke="#666" stroke-width="1.4" />
<line x1="1594.8" y1="923.4" x2="1604.8" y2="923.4" stroke="#666" stroke-width="1.4" />
<line x1="1594.8" y1="950.2" x2="1604.8" y2="950.2" stroke="#666" stroke-width="1.4" />
<line x1="1594.8" y1="977" x2="1604.8" y2="977" stroke="#666" stroke-width="1.4" />
<line x1="1594.8" y1="1003.8" x2="1604.8" y2="1003.8" stroke="#666" stroke-width="1.4" />
<line x1="1594.8" y1="1030.6" x2="1604.8" y2="1030.6" stroke="#666" stroke-width="1.4" />
<line x1="1594.8" y1="1057.4" x2="1604.8" y2="1057.4" stroke="#666" stroke-width="1.4" />
<line x1="1594.8" y1="1084.2" x2="1604.8" y2="1084.2" stroke="#666" stroke-width="1.4" />
<line x1="1594.8" y1="1111" x2="1604.8" y2="1111" stroke="#666" stroke-width="1.4" />
<line x1="1594.8" y1="1137.8" x2="1604.8" y2="1137.8" stroke="#666" stroke-width="1.4" />
<line x1="1594.8" y1="1164.6" x2="1604.8" y2="1164.6" stroke="#666" stroke-width="1.4" />
<line x1="1594.8" y1="1191.4" x2="1604.8" y2="1191.4" stroke="#666" stroke-width="1.4" />
<line x1="1594.8" y1="1218.2" x2="1604.8" y2="1218.2" stroke="#666" stroke-width="1.4" />
<line x1="1594.8" y1="1245" x2="1604.8" y2="1245" stroke="#666" stroke-width="1.4" />
<line x1="1594.8" y1="1271.8" x2="1604.8" y2="1271.8" stroke="#666" stroke-width="1.4" />
<line x1="1594.8" y1="1298.6" x2="1604.8" y2="1298.6" stroke="#666" stroke-width="1.4" />
<line x1="1594.8" y1="1325.4" x2="1604.8" y2="1325.4" stroke="#666" stroke-width="1.4" />
<line x1="1594.8" y1="1352.2" x2="1604.8" y2="1352.2" stroke="#666" stroke-width="1.4" />
<line x1="1594.8" y1="1379" x2="1604.8" y2="1379" stroke="#666" stroke-width="1.4" />
<line x1="1594.8" y1="1405.8" x2="1604.8" y2="1405.8" stroke="#666" stroke-width="1.4" />
<line x1="1594.8" y1="1432.6" x2="1604.8" y2="1432.6" stroke="#666" stroke-width="1.4" />
<line x1="1594.8" y1="1459.4" x2="1604.8" y2="1459.4" stroke="#666" stroke-width="1.4" />
<line x1="1594.8" y1="1486.2" x2="1604.8" y2="1486.2" stroke="#666" stroke-width="1.4" />
<line x1="1594.8" y1="1513" x2="1604.8" y2="1513" stroke="#666" stroke-width="1.4" />
<line x1="1594.8" y1="1539.8" x2="1604.8" y2="1539.8" stroke="#666" stroke-width="1.4" />
<line x1="1594.8" y1="1566.6" x2="1604.8" y2="1566.6" stroke="#666" stroke-width="1.4" />
<line x1="1594.8" y1="1593.4" x2="1604.8" y2="1593.4" stroke="#666" stroke-width="1.4" />
<line x1="1594.8" y1="1620.2" x2="1604.8" y2="1620.2" stroke="#666" stroke-width="1.4" />
<line x1="1594.8" y1="1647" x2="1604.8" y2="1647" stroke="#666" stroke-width="1.4" />
<line x1="1594.8" y1="1673.8" x2="1604.8" y2="1673.8" stroke="#666" stroke-width="1.4" />
<line x1="1594.8" y1="1700.6" x2="1604.8" y2="1700.6" stroke="#666" stroke-width="1.4" />
<line x1="1594.8" y1="1727.4" x2="1604.8" y2="1727.4" stroke="#666" stroke-width="1.4" />
<line x1="1594.8" y1="1754.2" x2="1604.8" y2="1754.2" stroke="#666" stroke-width="1.4" />
<line x1="1594.8" y1="1781" x2="1604.8" y2="1781" stroke="#666" stroke-width="1.4" />
<line x1="1594.8" y1="1807.8" x2="1604.8" y2="1807.8" stroke="#666" stroke-width="1.4" />
<line x1="1594.8" y1="1834.6" x2="1604.8" y2="1834.6" stroke="#666" stroke-width="1.4" />
<line x1="1594.8" y1="1861.4" x2="1604.8" y2="1861.4" stroke="#666" stroke-width="1.4" />
<line x1="1594.8" y1="1888.2" x2="1604.8" y2="1888.2" stroke="#666" stroke-width="1.4" />
<line x1="1594.8" y1="1915" x2="1604.8" y2="1915" stroke="#666" stroke-width="1.4" />
<line x1="1594.8" y1="1941.8" x2="1604.8" y2="1941.8" stroke="#666" stroke-width="1.4" />
<line x1="1594.8" y1="1968.6" x2="1604.8" y2="1968.6" stroke="#666" stroke-width="1.4" />
<line x1="1594.8" y1="1995.4" x2="1604.8" y2="1995.4" stroke="#666" stroke-width="1.4" />
<line x1="1594.8" y1="2022.2" x2="1604.8" y2="2022.2" stroke="#666" stroke-width="1.4" />
<line x1="1594.8" y1="2049" x2="1604.8" y2="2049" stroke="#666" stroke-width="1.4" />
<line x1="1594.8" y1="2075.8" x2="1604.8" y2="2075.8" stroke="#666" stroke-width="1.4" />
<line x1="1594.8" y1="2102.6" x2="1604.8" y2="2102.6" stroke="#666" stroke-width="1.4" />
<line x1="594.3" y1="475.6" x2="594.3" y2="2117.5" stroke="#8a8a8a" stroke-width="1.5" />
<line x1="1581.5" y1="1607" x2="1581.5" y2="2117" stroke="#666" stroke-width="1" />
<line x1="1590.4" y1="819.8" x2="1590.4" y2="1607" stroke="#999" stroke-width="1.2" />
<line x1="1593.6" y1="463" x2="1593.6" y2="2117" stroke="#a2a2a2" stroke-width="3.2" />
<line x1="603" y1="2118.5" x2="603" y2="2131" stroke="#999" stroke-width="2" />
<line x1="603" y1="2178" x2="603" y2="2189.5" stroke="#aaa" stroke-width="1.6" />
<line x1="629.8" y1="2118.5" x2="629.8" y2="2131" stroke="#999" stroke-width="2" />
<line x1="629.8" y1="2178" x2="629.8" y2="2189.5" stroke="#aaa" stroke-width="1.6" />
<line x1="656.6" y1="2118.5" x2="656.6" y2="2131" stroke="#999" stroke-width="2" />
<line x1="656.6" y1="2178" x2="656.6" y2="2189.5" stroke="#aaa" stroke-width="1.6" />
<line x1="683.4" y1="2118.5" x2="683.4" y2="2131" stroke="#999" stroke-width="2" />
<line x1="683.4" y1="2178" x2="683.4" y2="2189.5" stroke="#aaa" stroke-width="1.6" />
<line x1="710.2" y1="2118.5" x2="710.2" y2="2131" stroke="#999" stroke-width="2" />
<line x1="710.2" y1="2178" x2="710.2" y2="2189.5" stroke="#aaa" stroke-width="1.6" />
<line x1="737" y1="2118.5" x2="737" y2="2131" stroke="#999" stroke-width="2" />
<line x1="737" y1="2178" x2="737" y2="2189.5" stroke="#aaa" stroke-width="1.6" />
<line x1="763.8" y1="2118.5" x2="763.8" y2="2131" stroke="#999" stroke-width="2" />
<line x1="763.8" y1="2178" x2="763.8" y2="2189.5" stroke="#aaa" stroke-width="1.6" />
<line x1="790.6" y1="2118.5" x2="790.6" y2="2131" stroke="#999" stroke-width="2" />
<line x1="790.6" y1="2178" x2="790.6" y2="2189.5" stroke="#aaa" stroke-width="1.6" />
<line x1="817.4" y1="2118.5" x2="817.4" y2="2131" stroke="#999" stroke-width="2" />
<line x1="817.4" y1="2178" x2="817.4" y2="2189.5" stroke="#aaa" stroke-width="1.6" />
<line x1="844.2" y1="2118.5" x2="844.2" y2="2131" stroke="#999" stroke-width="2" />
<line x1="844.2" y1="2178" x2="844.2" y2="2189.5" stroke="#aaa" stroke-width="1.6" />
<line x1="871" y1="2118.5" x2="871" y2="2131" stroke="#999" stroke-width="2" />
<line x1="871" y1="2178" x2="871" y2="2189.5" stroke="#aaa" stroke-width="1.6" />
<line x1="897.8" y1="2118.5" x2="897.8" y2="2131" stroke="#999" stroke-width="2" />
<line x1="897.8" y1="2178" x2="897.8" y2="2189.5" stroke="#aaa" stroke-width="1.6" />
<line x1="924.6" y1="2118.5" x2="924.6" y2="2131" stroke="#999" stroke-width="2" />
<line x1="924.6" y1="2178" x2="924.6" y2="2189.5" stroke="#aaa" stroke-width="1.6" />
<line x1="951.4" y1="2118.5" x2="951.4" y2="2131" stroke="#999" stroke-width="2" />
<line x1="951.4" y1="2178" x2="951.4" y2="2189.5" stroke="#aaa" stroke-width="1.6" />
<line x1="978.2" y1="2118.5" x2="978.2" y2="2131" stroke="#999" stroke-width="2" />
<line x1="978.2" y1="2178" x2="978.2" y2="2189.5" stroke="#aaa" stroke-width="1.6" />
<line x1="1005" y1="2118.5" x2="1005" y2="2131" stroke="#999" stroke-width="2" />
<line x1="1005" y1="2178" x2="1005" y2="2189.5" stroke="#aaa" stroke-width="1.6" />
<line x1="1031.8" y1="2118.5" x2="1031.8" y2="2131" stroke="#999" stroke-width="2" />
<line x1="1031.8" y1="2178" x2="1031.8" y2="2189.5" stroke="#aaa" stroke-width="1.6" />
<line x1="1058.6" y1="2118.5" x2="1058.6" y2="2131" stroke="#999" stroke-width="2" />
<line x1="1058.6" y1="2178" x2="1058.6" y2="2189.5" stroke="#aaa" stroke-width="1.6" />
<line x1="1085.4" y1="2118.5" x2="1085.4" y2="2131" stroke="#999" stroke-width="2" />
<line x1="1085.4" y1="2178" x2="1085.4" y2="2189.5" stroke="#aaa" stroke-width="1.6" />
<line x1="1112.2" y1="2118.5" x2="1112.2" y2="2131" stroke="#999" stroke-width="2" />
<line x1="1112.2" y1="2178" x2="1112.2" y2="2189.5" stroke="#aaa" stroke-width="1.6" />
<line x1="1139" y1="2118.5" x2="1139" y2="2131" stroke="#999" stroke-width="2" />
<line x1="1139" y1="2178" x2="1139" y2="2189.5" stroke="#aaa" stroke-width="1.6" />
<line x1="1165.8" y1="2118.5" x2="1165.8" y2="2131" stroke="#999" stroke-width="2" />
<line x1="1165.8" y1="2178" x2="1165.8" y2="2189.5" stroke="#aaa" stroke-width="1.6" />
<line x1="1192.6" y1="2118.5" x2="1192.6" y2="2131" stroke="#999" stroke-width="2" />
<line x1="1192.6" y1="2178" x2="1192.6" y2="2189.5" stroke="#aaa" stroke-width="1.6" />
<line x1="1219.4" y1="2118.5" x2="1219.4" y2="2131" stroke="#999" stroke-width="2" />
<line x1="1219.4" y1="2178" x2="1219.4" y2="2189.5" stroke="#aaa" stroke-width="1.6" />
<line x1="1246.2" y1="2118.5" x2="1246.2" y2="2131" stroke="#999" stroke-width="2" />
<line x1="1246.2" y1="2178" x2="1246.2" y2="2189.5" stroke="#aaa" stroke-width="1.6" />
<line x1="1273" y1="2118.5" x2="1273" y2="2131" stroke="#999" stroke-width="2" />
<line x1="1273" y1="2178" x2="1273" y2="2189.5" stroke="#aaa" stroke-width="1.6" />
<line x1="1299.8" y1="2118.5" x2="1299.8" y2="2131" stroke="#999" stroke-width="2" />
<line x1="1299.8" y1="2178" x2="1299.8" y2="2189.5" stroke="#aaa" stroke-width="1.6" />
<line x1="1326.6" y1="2118.5" x2="1326.6" y2="2131" stroke="#999" stroke-width="2" />
<line x1="1326.6" y1="2178" x2="1326.6" y2="2189.5" stroke="#aaa" stroke-width="1.6" />
<line x1="1353.4" y1="2118.5" x2="1353.4" y2="2131" stroke="#999" stroke-width="2" />
<line x1="1353.4" y1="2178" x2="1353.4" y2="2189.5" stroke="#aaa" stroke-width="1.6" />
<line x1="1380.2" y1="2118.5" x2="1380.2" y2="2131" stroke="#999" stroke-width="2" />
<line x1="1380.2" y1="2178" x2="1380.2" y2="2189.5" stroke="#aaa" stroke-width="1.6" />
<line x1="1407" y1="2118.5" x2="1407" y2="2131" stroke="#999" stroke-width="2" />
<line x1="1407" y1="2178" x2="1407" y2="2189.5" stroke="#aaa" stroke-width="1.6" />
<line x1="1433.8" y1="2118.5" x2="1433.8" y2="2131" stroke="#999" stroke-width="2" />
<line x1="1433.8" y1="2178" x2="1433.8" y2="2189.5" stroke="#aaa" stroke-width="1.6" />
<line x1="1460.6" y1="2118.5" x2="1460.6" y2="2131" stroke="#999" stroke-width="2" />
<line x1="1460.6" y1="2178" x2="1460.6" y2="2189.5" stroke="#aaa" stroke-width="1.6" />
<line x1="1487.4" y1="2118.5" x2="1487.4" y2="2131" stroke="#999" stroke-width="2" />
<line x1="1487.4" y1="2178" x2="1487.4" y2="2189.5" stroke="#aaa" stroke-width="1.6" />
<line x1="1514.2" y1="2118.5" x2="1514.2" y2="2131" stroke="#999" stroke-width="2" />
<line x1="1541" y1="2118.5" x2="1541" y2="2131" stroke="#999" stroke-width="2" />
<line x1="1567.8" y1="2118.5" x2="1567.8" y2="2131" stroke="#999" stroke-width="2" />
<line x1="583" y1="2117.5" x2="1595" y2="2117.5" stroke="#777" stroke-width="1" />
<line x1="595" y1="2131.5" x2="1595" y2="2131.5" stroke="#888" stroke-width="1" />
<line x1="595" y1="2131.5" x2="595" y2="2177.5" stroke="#777" stroke-width="1" />
<line x1="595" y1="2177.5" x2="1493" y2="2177.5" stroke="#777" stroke-width="1" />
<line x1="1493" y1="2131.5" x2="1493" y2="2177.5" stroke="#777" stroke-width="1" />
<line x1="1503.5" y1="2131.5" x2="1503.5" y2="2190.5" stroke="#888" stroke-width="1" />
<rect x="1476" y="819.8" width="114.4" height="787" fill="#fff"/>
<rect x="1226" y="819.8" width="7" height="553" fill="#fff"/>
<rect x="1469" y="819.8" width="7" height="787" fill="#fff"/>
<rect x="1233" y="819.8" width="236" height="787" fill="#ededed"/>
<path d="M1233,824.3H1469M1233,836.3H1469M1233,848.3H1469M1233,860.3H1469M1233,872.3H1469M1233,884.3H1469M1233,896.3H1469M1233,908.3H1469M1233,920.3H1469M1233,932.3H1469M1233,944.3H1469M1233,956.3H1469M1233,968.3H1469M1233,980.3H1469M1233,992.3H1469M1233,1004.3H1469M1233,1016.3H1469M1233,1028.3H1469M1233,1040.3H1469M1233,1052.3H1469M1233,1064.3H1469M1233,1076.3H1469M1233,1088.3H1469M1233,1100.3H1469M1233,1112.3H1469M1233,1124.3H1469M1233,1136.3H1469M1233,1148.3H1469M1233,1160.3H1469M1233,1172.3H1469M1233,1184.3H1469M1233,1196.3H1469M1233,1208.3H1469M1233,1220.3H1469M1233,1232.3H1469M1233,1244.3H1469M1233,1256.3H1469M1233,1268.3H1469M1233,1280.3H1469M1233,1292.3H1469M1233,1304.3H1469M1233,1316.3H1469M1233,1328.3H1469M1233,1340.3H1469M1233,1352.3H1469M1233,1364.3H1469" stroke="#b0b0b0" stroke-width="3.0" fill="none"/>
<path d="M1358,1376.3H1469M1358,1388.3H1469M1358,1400.3H1469M1358,1412.3H1469M1358,1424.3H1469M1358,1436.3H1469M1358,1448.3H1469M1358,1460.3H1469M1358,1472.3H1469M1358,1484.3H1469M1358,1496.3H1469M1358,1508.3H1469M1358,1520.3H1469M1358,1532.3H1469M1358,1544.3H1469M1358,1556.3H1469M1358,1568.3H1469" stroke="#b0b0b0" stroke-width="3.0" fill="none"/>
<path d="M1393,1580.3H1469M1393,1592.3H1469M1393,1604.3H1469" stroke="#b0b0b0" stroke-width="3.0" fill="none"/>
<rect x="1476.8" y="819.8" width="113.6" height="148" fill="#ededed"/>
<path d="M1476.8,824.3H1590.4M1476.8,836.3H1590.4M1476.8,848.3H1590.4M1476.8,860.3H1590.4M1476.8,872.3H1590.4M1476.8,884.3H1590.4M1476.8,896.3H1590.4M1476.8,908.3H1590.4M1476.8,920.3H1590.4M1476.8,932.3H1590.4M1476.8,944.3H1590.4M1476.8,956.3H1590.4" stroke="#b0b0b0" stroke-width="3.0" fill="none"/>
<path d="M1476.8,970H1592M1476.8,987.7H1592M1476.8,1005.3H1592M1476.8,1023H1592M1476.8,1040.7H1592M1476.8,1058.3H1592M1476.8,1076H1592M1476.8,1093.7H1592M1476.8,1111.4H1592M1476.8,1129H1592M1476.8,1146.7H1592" stroke="#9c9c9c" stroke-width="2.6" fill="none"/>
<path d="M1476.8,1266.8H1592M1476.8,1284.6H1592M1476.8,1302.5H1592M1476.8,1320.3H1592M1476.8,1338.1H1592M1476.8,1356H1592M1476.8,1373.8H1592M1476.8,1391.6H1592M1476.8,1409.4H1592M1476.8,1427.3H1592M1476.8,1445.1H1592" stroke="#9c9c9c" stroke-width="2.6" fill="none"/>
<rect x="1476.8" y="1446.5" width="113.6" height="161" fill="#ededed"/>
<path d="M1476.8,1460.3H1590.4M1476.8,1472.3H1590.4M1476.8,1484.3H1590.4M1476.8,1496.3H1590.4M1476.8,1508.3H1590.4M1476.8,1520.3H1590.4M1476.8,1532.3H1590.4M1476.8,1544.3H1590.4M1476.8,1556.3H1590.4M1476.8,1568.3H1590.4M1476.8,1580.3H1590.4M1476.8,1592.3H1590.4M1476.8,1604.3H1590.4" stroke="#b0b0b0" stroke-width="3.0" fill="none"/>
<path d="M1314.6,824.3V836.3M1550.1,824.3V836.3M1323.6,848.3V860.3M1535.7,848.3V860.3M1260,872.3V884.3M1527.5,872.3V884.3M1293,884.3V896.3M1369.1,896.3V908.3M1582.6,896.3V908.3M1307.3,920.3V932.3M1496.8,920.3V932.3M1283.9,944.3V956.3M1362.8,968.3V980.3M1391.3,980.3V992.3M1370.9,992.3V1004.3M1395.3,1016.3V1028.3M1433.2,1040.3V1052.3M1270.4,1064.3V1076.3M1350.1,1076.3V1088.3M1409.4,1088.3V1100.3M1394.5,1112.3V1124.3M1425.6,1136.3V1148.3M1258,1160.3V1172.3M1421.7,1184.3V1196.3M1249.9,1208.3V1220.3M1257.7,1220.3V1232.3M1298.2,1232.3V1244.3M1341.6,1244.3V1256.3M1421.1,1256.3V1268.3M1322.1,1280.3V1292.3M1282.9,1292.3V1304.3M1349.3,1304.3V1316.3M1335.1,1316.3V1328.3M1449.9,1328.3V1340.3M1390.4,1352.3V1364.3M1448.5,1376.3V1388.3M1377.5,1400.3V1412.3M1387.2,1412.3V1424.3M1372.8,1424.3V1436.3M1401.5,1436.3V1448.3M1424.5,1448.3V1460.3M1401.5,1472.3V1484.3M1410.9,1496.3V1508.3M1495.2,1496.3V1508.3M1392.4,1520.3V1532.3M1487.3,1520.3V1532.3M1416.6,1544.3V1556.3M1416.6,1556.3V1568.3M1432.1,1568.3V1580.3M1501.7,1568.3V1580.3" stroke="#888" stroke-width="2" fill="none"/>
<line x1="1226" y1="819.8" x2="1590.4" y2="819.8" stroke="#777" stroke-width="1.2" />
<line x1="1256" y1="811.5" x2="1256" y2="817.5" stroke="#777" stroke-width="2" />
<line x1="1282.8" y1="811.5" x2="1282.8" y2="817.5" stroke="#777" stroke-width="2" />
<line x1="1309.6" y1="811.5" x2="1309.6" y2="817.5" stroke="#777" stroke-width="2" />
<line x1="1336.4" y1="811.5" x2="1336.4" y2="817.5" stroke="#777" stroke-width="2" />
<line x1="1363.2" y1="811.5" x2="1363.2" y2="817.5" stroke="#777" stroke-width="2" />
<line x1="1390" y1="811.5" x2="1390" y2="817.5" stroke="#777" stroke-width="2" />
<line x1="1416.8" y1="811.5" x2="1416.8" y2="817.5" stroke="#777" stroke-width="2" />
<line x1="1443.6" y1="811.5" x2="1443.6" y2="817.5" stroke="#777" stroke-width="2" />
<line x1="1470.4" y1="811.5" x2="1470.4" y2="817.5" stroke="#777" stroke-width="2" />
<line x1="1497.2" y1="811.5" x2="1497.2" y2="817.5" stroke="#777" stroke-width="2" />
<line x1="1524" y1="811.5" x2="1524" y2="817.5" stroke="#777" stroke-width="2" />
<line x1="1550.8" y1="811.5" x2="1550.8" y2="817.5" stroke="#777" stroke-width="2" />
<line x1="1577.6" y1="811.5" x2="1577.6" y2="817.5" stroke="#777" stroke-width="2" />
<line x1="1233" y1="1606.5" x2="1590.4" y2="1606.5" stroke="#666" stroke-width="1.2" />
<line x1="1231" y1="819.8" x2="1231" y2="1372" stroke="#888" stroke-width="1" />
<line x1="1469" y1="819.8" x2="1469" y2="1606" stroke="#888" stroke-width="1" />
<line x1="1476.8" y1="819.8" x2="1476.8" y2="1606" stroke="#888" stroke-width="1" />
<rect x="1303.6" y="836.4" width="37.4" height="36.6" rx="6" fill="#efefef" stroke="#222" stroke-width="2.6"/>
<line x1="1305" y1="842" x2="1340" y2="842" stroke="#333" stroke-width="1.2" />
<line x1="1305" y1="846.5" x2="1340" y2="846.5" stroke="#333" stroke-width="1.2" />
<rect x="1243" y="880" width="36" height="36" rx="6" fill="#efefef" stroke="#222" stroke-width="2.6"/>
<line x1="1248.5" y1="882" x2="1248.5" y2="914" stroke="#333" stroke-width="1.2" />
<line x1="1252.5" y1="882" x2="1252.5" y2="914" stroke="#333" stroke-width="1.2" />
<rect x="1243" y="941.5" width="36" height="37.5" rx="6" fill="#efefef" stroke="#222" stroke-width="2.6"/>
<line x1="1248.5" y1="943" x2="1248.5" y2="977" stroke="#333" stroke-width="1.2" />
<line x1="1252.5" y1="943" x2="1252.5" y2="977" stroke="#333" stroke-width="1.2" />
<rect x="1303.6" y="900.6" width="32.4" height="61" rx="3" fill="#efefef" stroke="#222" stroke-width="2.6"/>
<rect x="1308" y="1228" width="48" height="95.5" rx="2" fill="#efefef" stroke="#222" stroke-width="2.2"/>
<rect x="1263" y="1258" width="38" height="37.6" rx="6" fill="#efefef" stroke="#222" stroke-width="2.6"/>
<line x1="1268" y1="1260" x2="1268" y2="1294" stroke="#333" stroke-width="1.2" />
<line x1="1272" y1="1260" x2="1272" y2="1294" stroke="#333" stroke-width="1.2" />
<path d="M1233,1045.8 H1288 M1233,1156 H1288" stroke="#444" stroke-width="2.2" fill="none"/>
<path d="M1288,1045.8 A55,55 0 0 1 1233,1101 M1288,1156 A55,55 0 0 0 1233,1101" stroke="#666" stroke-width="1.2" fill="none"/>
<rect x="1222" y="1047" width="9" height="108" fill="#fff"/>
<path d="M1476,883 H1529 A53,53 0 0 1 1476,936" stroke="#666" stroke-width="1.2" fill="none"/>
<rect x="1471" y="884" width="8" height="52" fill="#fff"/>
<line x1="1534.5" y1="969.4" x2="1534.5" y2="1146.7" stroke="#777" stroke-width="1.2" />
<path d="M1522.5,985.9 L1534.5,969.4 L1546.5,985.9" stroke="#666" stroke-width="1.2" fill="none"/>
<path d="M1522.5,1100.5 L1534.5,1084 L1546.5,1100.5" stroke="#666" stroke-width="1.2" fill="none"/>
<line x1="1534.5" y1="1267" x2="1534.5" y2="1445" stroke="#777" stroke-width="1.2" />
<path d="M1522.5,1283.5 L1534.5,1267 L1546.5,1283.5" stroke="#666" stroke-width="1.2" fill="none"/>
<path d="M1476.8,1039.5 L1594,1111.5 M1476.8,1047 L1590,1117" stroke="#555" stroke-width="1.5" fill="none"/>
<rect x="1243" y="1392.6" width="110" height="166.2" fill="#f7f7f7"/>
<path d="M1225,1372.7 H1357.8 V1392.6 H1243 V1558.8 H1356 V1578 H1225 Z" fill="#2b2b2b" stroke="#111" stroke-width="1.5"/>
<line x1="1246.5" y1="1394" x2="1246.5" y2="1558" stroke="#999" stroke-width="1" />
<line x1="1254.8" y1="1394" x2="1254.8" y2="1558" stroke="#999" stroke-width="1" />
<path d="M1258,1398.6 H1343 V1469 H1258 Z M1258,1398.6 L1343,1469 M1343,1398.6 L1258,1469" stroke="#555" stroke-width="1" fill="none"/>
<path d="M1258,1477 H1343 V1550.5 H1258 Z M1258,1477 L1343,1550.5 M1343,1477 L1258,1550.5" stroke="#555" stroke-width="1" fill="none"/>
<line x1="1352" y1="1392.6" x2="1352" y2="1558.8" stroke="#555" stroke-width="1" />
<rect x="1349" y="1392.6" width="8" height="16.4" rx="2" fill="#4a4a4a"/>
<rect x="1349" y="1459" width="8" height="33" rx="2" fill="#4a4a4a"/>
<rect x="1349" y="1545.5" width="8" height="13.3" rx="2" fill="#4a4a4a"/>
<rect x="1226.5" y="1579" width="165" height="27" fill="#fff" stroke="#111" stroke-width="3"/>
<rect x="1231.5" y="1584" width="119" height="17" fill="#fff" stroke="#333" stroke-width="1"/>
<rect x="1356" y="1565" width="35.5" height="41" fill="#fff" stroke="#111" stroke-width="3"/>
<rect x="1357" y="1566" width="33" height="39" fill="#555"/>
<circle cx="1371.5" cy="1587.5" r="11.5" fill="#fff" stroke="#111" stroke-width="2.2"/>
<circle cx="1369.4" cy="1568.5" r="6" fill="#fff" stroke="#111" stroke-width="2"/>
<rect x="1225" y="849.7" width="27" height="27.5" rx="2.5" fill="#3c3c3c" stroke="#222" stroke-width="1"/>
<rect x="1449.5" y="849.7" width="27" height="27.5" rx="2.5" fill="#3c3c3c" stroke="#222" stroke-width="1"/>
<rect x="1225" y="1194" width="27" height="27.5" rx="2.5" fill="#3c3c3c" stroke="#222" stroke-width="1"/>
<rect x="1449.5" y="1194" width="27" height="27.5" rx="2.5" fill="#3c3c3c" stroke="#222" stroke-width="1"/>
<rect x="1449.5" y="1550.5" width="27" height="27.5" rx="2.5" fill="#3c3c3c" stroke="#222" stroke-width="1"/>
<circle cx="772.3" cy="861.3" r="10.5" fill="#444" stroke="#111" stroke-width="3"/>
<circle cx="771.6" cy="1563" r="10.5" fill="#444" stroke="#111" stroke-width="3"/>
<circle cx="771.6" cy="2090" r="10.5" fill="#444" stroke="#111" stroke-width="3"/>
<circle cx="1237.8" cy="2090" r="10.5" fill="#444" stroke="#111" stroke-width="3"/>
<circle cx="1463" cy="2090" r="10.5" fill="#444" stroke="#111" stroke-width="3"/>
<rect x="758" y="1194.5" width="26" height="26" fill="#3c3c3c" stroke="#222" stroke-width="1"/>
<rect x="779" y="1168" width="46" height="33" fill="#f2f2f2" stroke="#111" stroke-width="2.2"/>
<rect x="784" y="1173" width="36" height="23" fill="#f2f2f2" stroke="#111" stroke-width="1.6"/>
<defs><g id="car" fill="none" stroke-linecap="round" stroke-linejoin="round">
<path d="M2,0 C2,-22 3,-36 10,-44 C17,-50 28,-51.5 44,-51.5 H228 C243,-51 253,-47 258,-38 C261.5,-26 263,-12 263,0 C263,12 261.5,26 258,38 C253,47 243,51 228,51.5 H44 C28,51.5 17,50 10,44 C3,36 2,22 2,0 Z" stroke="#7c7c7c" stroke-width="1.4" fill="#f2f2f2"/>
<path d="M40,-49.3 H230 M40,49.3 H230" stroke="#8a8a8a" stroke-width="1.2"/>
<path d="M1.5,0 C1.5,-18 2.5,-30 8,-38 C14,-44 26,-46 46,-46.5 M1.5,0 C1.5,18 2.5,30 8,38 C14,44 26,46 46,46.5" stroke="#1c1c1c" stroke-width="2.6"/>
<path d="M46,-46.5 L90,-45 H228 M46,46.5 L90,45 H228" stroke="#2c2c2c" stroke-width="2"/>
<path d="M228,-45 C242,-44.5 250,-41 255,-34 C260,-24 262.5,-12 262.5,0 C262.5,12 260,24 255,34 C250,41 242,44.5 228,45" stroke="#1c1c1c" stroke-width="2.6"/>
<path d="M7,-22.5 L70,-38 M7,22.5 L70,38" stroke="#2a2a2a" stroke-width="2"/>
<path d="M76,-41 C70,-26 67.5,-12 67.5,0 C67.5,12 70,26 76,41 C84,41.5 92,39 112,33 C108.5,17 108,8 108,0 C108,-8 108.5,-17 112,-33 C92,-39 84,-41.5 76,-41 Z" stroke="#333" stroke-width="1.9"/>
<path d="M76,-41 L90,-45 M76,41 L90,45" stroke="#333" stroke-width="1.6"/>
<path d="M112,-33 H186 M112,33 H186 M156,-46 V-31 M156,46 V31 M121,-44 V-33 M121,44 V33" stroke="#555" stroke-width="1.6"/>
<path d="M119,-30.5 H158 M119,30.5 H158" stroke="#858585" stroke-width="3"/>
<path d="M186,-26.5 V26.5 L214,29 C217.5,16 218.5,7 218.5,0 C218.5,-7 217.5,-16 214,-29 Z" stroke="#555" stroke-width="1.6"/>
<path d="M186,-38 C200,-38 208,-34 213,-29 M186,38 C200,38 208,34 213,29" stroke="#777" stroke-width="1.3"/>
<path d="M150,-43.5 H192 C207,-42.5 216,-34 220,-22 C222.5,-12 223.5,-5 223.5,0 C223.5,5 222.5,12 220,22 C216,34 207,42.5 192,43.5 H150" stroke="#2a2a2a" stroke-width="2.2"/>
<path d="M251,-38 C254,-20 255,-8 255,0 C255,8 254,20 251,38" stroke="#6a6a6a" stroke-width="1.3"/>
<path d="M88,-46 L97,-54.5 L101.5,-51 L96,-46 Z M88,46 L97,54.5 L101.5,51 L96,46 Z" stroke="#3a3a3a" stroke-width="1.5" fill="#bbb"/>
<path d="M61,-14 l3,-3 M61,14 l3,3 M62,0 h3" stroke="#777" stroke-width="1.2"/>
<line x1="-4" y1="0" x2="267" y2="0" stroke="#3a3a3a" stroke-width="1.5" stroke-dasharray="16 3 3 3"/>
</g></defs>
<path d="M595.6,491.7 H933.2" fill="none" stroke="#444" stroke-width="2.8" stroke-dasharray="22.5 9"/>
<path d="M933.2,491.7 V783.8" fill="none" stroke="#555" stroke-width="2.8" stroke-dasharray="24.5 6.5"/>
<line x1="206" y1="490.5" x2="1749.5" y2="490.5" stroke="#8c8c8c" stroke-width="1.5" stroke-dasharray="76 37.7" />
<use href="#car" x="637.5" y="598"/>
<use href="#car" x="637.5" y="776.5"/>
<use href="#car" x="637.5" y="934"/>
<use href="#car" x="637.5" y="1103.5"/>
<use href="#car" x="637.5" y="1284.6"/>
<use href="#car" x="637.5" y="1454"/>
<use href="#car" x="637.5" y="1649"/>
<use href="#car" x="637.5" y="1827.7"/>
<use href="#car" x="637.5" y="2006"/>
<use href="#car" transform="translate(1551.5 598) scale(-1 1)"/>
<use href="#car" transform="translate(1551.5 746) scale(-1 1)"/>
<use href="#car" transform="translate(1551.5 1682.5) scale(-1 1)"/>
<use href="#car" transform="translate(1551.5 1831) scale(-1 1)"/>
<use href="#car" transform="translate(1551.5 1982.8) scale(-1 1)"/>
<line x1="581" y1="790.5" x2="1595.4" y2="790.5" stroke="#2a2a2a" stroke-width="2.8" stroke-dasharray="22 9.25" stroke-dashoffset="4" />
<line x1="219.5" y1="850.4" x2="1694" y2="850.4" stroke="#555" stroke-width="2.9" stroke-dasharray="31 13.1 3 13.5" stroke-dashoffset="7.4" />
<line x1="221.6" y1="1194.4" x2="1700" y2="1194.4" stroke="#555" stroke-width="2.9" stroke-dasharray="31 13.1 3 13.5" stroke-dashoffset="9.5" />
<line x1="220" y1="1576" x2="1692" y2="1576" stroke="#555" stroke-width="2.9" stroke-dasharray="31 13.1 3 13.5" stroke-dashoffset="7.9" />
<line x1="220" y1="2102.3" x2="1700" y2="2102.3" stroke="#555" stroke-width="2.9" stroke-dasharray="31 13.1 3 13.5" stroke-dashoffset="7.9" />
<line x1="760" y1="238.8" x2="760" y2="252" stroke="#222" stroke-width="2.6" />
<line x1="1225.4" y1="238.8" x2="1225.4" y2="252" stroke="#222" stroke-width="2.6" />
<line x1="1474.6" y1="238.8" x2="1474.6" y2="252" stroke="#222" stroke-width="2.6" />
<line x1="760" y1="237" x2="760" y2="2532" stroke="#222" stroke-width="2.6" stroke-dasharray="31 13 3 13.5" stroke-dashoffset="46.4" />
<line x1="1225.4" y1="237" x2="1225.4" y2="2532" stroke="#222" stroke-width="2.6" stroke-dasharray="31 13 3 13.5" stroke-dashoffset="46.4" />
<line x1="1474.6" y1="237" x2="1474.6" y2="2532" stroke="#222" stroke-width="2.6" stroke-dasharray="31 13 3 13.5" stroke-dashoffset="46.4" />
<line x1="45" y1="1541.5" x2="1844" y2="1541.5" stroke="#000" stroke-width="4.8" stroke-dasharray="62.5 26 4 26.5 4 26" stroke-dashoffset="26" />
<line x1="987" y1="166" x2="987" y2="2618" stroke="#000" stroke-width="4.8" stroke-dasharray="62.5 26 4 26.5 4 26" stroke-dashoffset="83.5" />
<line x1="987" y1="94.6" x2="987" y2="166" stroke="#000" stroke-width="4.8" />
<line x1="987" y1="2618" x2="987" y2="2689" stroke="#000" stroke-width="4.8" />
<rect x="778.8" y="1167.2" width="46" height="33.6" fill="#f2f2f2" stroke="#111" stroke-width="2.8"/>
<rect x="784.6" y="1173" width="34.6" height="22.2" fill="#f2f2f2" stroke="#111" stroke-width="2.3"/>
<rect x="758.6" y="1194.7" width="26" height="26" fill="#3c3c3c" stroke="#222" stroke-width="1"/>
<line x1="556" y1="203.6" x2="1619" y2="203.6" stroke="#909090" stroke-width="1.9" />
<line x1="378" y1="260.4" x2="1619" y2="260.4" stroke="#909090" stroke-width="1.9" />
<line x1="569.5" y1="216.6" x2="595.5" y2="190.6" stroke="#555" stroke-width="1.3" />
<line x1="1581.8" y1="216.6" x2="1607.8" y2="190.6" stroke="#555" stroke-width="1.3" />
<line x1="389.5" y1="273.4" x2="415.5" y2="247.4" stroke="#555" stroke-width="1.3" />
<line x1="569.5" y1="273.4" x2="595.5" y2="247.4" stroke="#555" stroke-width="1.3" />
<line x1="747" y1="273.4" x2="773" y2="247.4" stroke="#555" stroke-width="1.3" />
<line x1="1212.4" y1="273.4" x2="1238.4" y2="247.4" stroke="#555" stroke-width="1.3" />
<line x1="1461.6" y1="273.4" x2="1487.6" y2="247.4" stroke="#555" stroke-width="1.3" />
<line x1="1581.8" y1="273.4" x2="1607.8" y2="247.4" stroke="#555" stroke-width="1.3" />
<line x1="557" y1="2509.9" x2="1619" y2="2509.9" stroke="#909090" stroke-width="1.9" />
<line x1="557" y1="2568.8" x2="1628" y2="2568.8" stroke="#909090" stroke-width="1.9" />
<line x1="569.5" y1="2522.9" x2="595.5" y2="2496.9" stroke="#555" stroke-width="1.3" />
<line x1="747" y1="2522.9" x2="773" y2="2496.9" stroke="#555" stroke-width="1.3" />
<line x1="1212.4" y1="2522.9" x2="1238.4" y2="2496.9" stroke="#555" stroke-width="1.3" />
<line x1="1461.6" y1="2522.9" x2="1487.6" y2="2496.9" stroke="#555" stroke-width="1.3" />
<line x1="1581.8" y1="2522.9" x2="1607.8" y2="2496.9" stroke="#555" stroke-width="1.3" />
<line x1="569.5" y1="2581.8" x2="595.5" y2="2555.8" stroke="#555" stroke-width="1.3" />
<line x1="1581.8" y1="2581.8" x2="1607.8" y2="2555.8" stroke="#555" stroke-width="1.3" />
<line x1="582.5" y1="183.6" x2="582.5" y2="2586.4" stroke="#909090" stroke-width="1.9" />
<line x1="1594.8" y1="107" x2="1594.8" y2="2612" stroke="#909090" stroke-width="1.7" />
<line x1="402.5" y1="155.7" x2="402.5" y2="2587" stroke="#808080" stroke-width="1.6" stroke-dasharray="75.5 37.9" />
<line x1="1689" y1="62" x2="1689" y2="288" stroke="#909090" stroke-width="1.7" />
<line x1="1677" y1="253" x2="1695" y2="271" stroke="#555" stroke-width="1.3" />
<line x1="234.5" y1="465" x2="234.5" y2="2215" stroke="#909090" stroke-width="1.7" />
<line x1="161.5" y1="795" x2="161.5" y2="2215" stroke="#909090" stroke-width="1.7" />
<line x1="221.5" y1="477.5" x2="247.5" y2="503.5" stroke="#555" stroke-width="1.3" />
<line x1="221.5" y1="805.5" x2="247.5" y2="831.5" stroke="#555" stroke-width="1.3" />
<line x1="221.5" y1="837.4" x2="247.5" y2="863.4" stroke="#555" stroke-width="1.3" />
<line x1="221.5" y1="1181.4" x2="247.5" y2="1207.4" stroke="#555" stroke-width="1.3" />
<line x1="221.5" y1="1563" x2="247.5" y2="1589" stroke="#555" stroke-width="1.3" />
<line x1="221.5" y1="2089.3" x2="247.5" y2="2115.3" stroke="#555" stroke-width="1.3" />
<line x1="221.5" y1="2177.5" x2="247.5" y2="2203.5" stroke="#555" stroke-width="1.3" />
<line x1="148.5" y1="805.5" x2="174.5" y2="831.5" stroke="#555" stroke-width="1.3" />
<line x1="148.5" y1="2177.5" x2="174.5" y2="2203.5" stroke="#555" stroke-width="1.3" />
<line x1="146" y1="818.5" x2="582.5" y2="818.5" stroke="#909090" stroke-width="1.7" />
<line x1="147" y1="2190.5" x2="582.5" y2="2190.5" stroke="#909090" stroke-width="1.7" />
<line x1="1680" y1="465" x2="1680" y2="2215" stroke="#909090" stroke-width="1.7" />
<line x1="1736.5" y1="795" x2="1736.5" y2="2215" stroke="#909090" stroke-width="1.7" />
<line x1="1667" y1="477.5" x2="1693" y2="503.5" stroke="#555" stroke-width="1.3" />
<line x1="1667" y1="805.5" x2="1693" y2="831.5" stroke="#555" stroke-width="1.3" />
<line x1="1667" y1="837.4" x2="1693" y2="863.4" stroke="#555" stroke-width="1.3" />
<line x1="1667" y1="1181.4" x2="1693" y2="1207.4" stroke="#555" stroke-width="1.3" />
<line x1="1667" y1="1563" x2="1693" y2="1589" stroke="#555" stroke-width="1.3" />
<line x1="1667" y1="2089.3" x2="1693" y2="2115.3" stroke="#555" stroke-width="1.3" />
<line x1="1667" y1="2177.5" x2="1693" y2="2203.5" stroke="#555" stroke-width="1.3" />
<line x1="1723.5" y1="805.5" x2="1749.5" y2="831.5" stroke="#555" stroke-width="1.3" />
<line x1="1723.5" y1="2177.5" x2="1749.5" y2="2203.5" stroke="#555" stroke-width="1.3" />
<line x1="1594.8" y1="818.5" x2="1752" y2="818.5" stroke="#909090" stroke-width="1.7" />
<line x1="1503.5" y1="2190.5" x2="1752" y2="2190.5" stroke="#909090" stroke-width="1.7" />
<text x="486" y="239.8" font-size="33" text-anchor="middle" font-weight="normal" fill="#111" stroke="#111" stroke-width="0.7" font-family="Liberation Sans, sans-serif" >3.00</text>
<text x="671" y="239.8" font-size="33" text-anchor="middle" font-weight="normal" fill="#111" stroke="#111" stroke-width="0.7" font-family="Liberation Sans, sans-serif" >3.00</text>
<text x="991.5" y="239.8" font-size="33" text-anchor="middle" font-weight="normal" fill="#111" stroke="#111" stroke-width="0.7" font-family="Liberation Sans, sans-serif" >7.80</text>
<text x="1350" y="239.8" font-size="33" text-anchor="middle" font-weight="normal" fill="#111" stroke="#111" stroke-width="0.7" font-family="Liberation Sans, sans-serif" >4.20</text>
<text x="1534" y="239.8" font-size="33" text-anchor="middle" font-weight="normal" fill="#111" stroke="#111" stroke-width="0.7" font-family="Liberation Sans, sans-serif" >2.00</text>
<text x="1086.7" y="178.6" font-size="33" text-anchor="middle" font-weight="normal" fill="#111" stroke="#111" stroke-width="0.7" font-family="Liberation Sans, sans-serif" textLength="76" lengthAdjust="spacingAndGlyphs">17.00</text>
<text x="671" y="2492" font-size="33" text-anchor="middle" font-weight="normal" fill="#111" stroke="#111" stroke-width="0.7" font-family="Liberation Sans, sans-serif" >3.00</text>
<text x="991.5" y="2492" font-size="33" text-anchor="middle" font-weight="normal" fill="#111" stroke="#111" stroke-width="0.7" font-family="Liberation Sans, sans-serif" >7.80</text>
<text x="1350" y="2492" font-size="33" text-anchor="middle" font-weight="normal" fill="#111" stroke="#111" stroke-width="0.7" font-family="Liberation Sans, sans-serif" >4.20</text>
<text x="1534" y="2492" font-size="33" text-anchor="middle" font-weight="normal" fill="#111" stroke="#111" stroke-width="0.7" font-family="Liberation Sans, sans-serif" >2.00</text>
<text x="1091" y="2550.5" font-size="33" text-anchor="middle" font-weight="normal" fill="#111" stroke="#111" stroke-width="0.7" font-family="Liberation Sans, sans-serif" textLength="76" lengthAdjust="spacingAndGlyphs">17.00</text>
<text x="215" y="643" font-size="33" text-anchor="middle" font-weight="normal" fill="#111" stroke="#111" stroke-width="0.7" font-family="Liberation Sans, sans-serif" transform="rotate(-90 215 643)" >5.00</text>
<text x="1665" y="643" font-size="33" text-anchor="middle" font-weight="normal" fill="#111" stroke="#111" stroke-width="0.7" font-family="Liberation Sans, sans-serif" transform="rotate(-90 1665 643)" >5.00</text>
<text x="215" y="845" font-size="33" text-anchor="middle" font-weight="normal" fill="#111" stroke="#111" stroke-width="0.7" font-family="Liberation Sans, sans-serif" transform="rotate(-90 215 845)" >0.50</text>
<text x="1665" y="839" font-size="33" text-anchor="middle" font-weight="normal" fill="#111" stroke="#111" stroke-width="0.7" font-family="Liberation Sans, sans-serif" transform="rotate(-90 1665 839)" >0.50</text>
<text x="215" y="1023" font-size="33" text-anchor="middle" font-weight="normal" fill="#111" stroke="#111" stroke-width="0.7" font-family="Liberation Sans, sans-serif" transform="rotate(-90 215 1023)" >5.80</text>
<text x="1665" y="1023" font-size="33" text-anchor="middle" font-weight="normal" fill="#111" stroke="#111" stroke-width="0.7" font-family="Liberation Sans, sans-serif" transform="rotate(-90 1665 1023)" >5.80</text>
<text x="215" y="1386" font-size="33" text-anchor="middle" font-weight="normal" fill="#111" stroke="#111" stroke-width="0.7" font-family="Liberation Sans, sans-serif" transform="rotate(-90 215 1386)" >6.40</text>
<text x="1665" y="1386" font-size="33" text-anchor="middle" font-weight="normal" fill="#111" stroke="#111" stroke-width="0.7" font-family="Liberation Sans, sans-serif" transform="rotate(-90 1665 1386)" >6.40</text>
<text x="215" y="1840" font-size="33" text-anchor="middle" font-weight="normal" fill="#111" stroke="#111" stroke-width="0.7" font-family="Liberation Sans, sans-serif" transform="rotate(-90 215 1840)" >8.80</text>
<text x="1665" y="1840" font-size="33" text-anchor="middle" font-weight="normal" fill="#111" stroke="#111" stroke-width="0.7" font-family="Liberation Sans, sans-serif" transform="rotate(-90 1665 1840)" >8.80</text>
<text x="215" y="2145.5" font-size="33" text-anchor="middle" font-weight="normal" fill="#111" stroke="#111" stroke-width="0.7" font-family="Liberation Sans, sans-serif" transform="rotate(-90 215 2145.5)" >1.50</text>
<text x="1665" y="2150" font-size="33" text-anchor="middle" font-weight="normal" fill="#111" stroke="#111" stroke-width="0.7" font-family="Liberation Sans, sans-serif" transform="rotate(-90 1665 2150)" >1.50</text>
<text x="143" y="1477" font-size="33" text-anchor="middle" font-weight="normal" fill="#111" stroke="#111" stroke-width="0.7" font-family="Liberation Sans, sans-serif" transform="rotate(-90 143 1477)" >23.00</text>
<text x="1719.5" y="1482" font-size="33" text-anchor="middle" font-weight="normal" fill="#111" stroke="#111" stroke-width="0.7" font-family="Liberation Sans, sans-serif" transform="rotate(-90 1719.5 1482)" >23.00</text>
<text x="364" y="238" font-size="50.5" text-anchor="middle" font-weight="normal" fill="#111" stroke="#111" stroke-width="0.2" font-family="Liberation Sans, sans-serif" transform="rotate(-90 364 238)" textLength="398" lengthAdjust="spacingAndGlyphs">PLOT BOUNDARY</text>
<text x="1675" y="238" font-size="50.5" text-anchor="middle" font-weight="normal" fill="#111" stroke="#111" stroke-width="0.2" font-family="Liberation Sans, sans-serif" transform="rotate(-90 1675 238)" textLength="398" lengthAdjust="spacingAndGlyphs">PLOT BOUNDARY</text>
<text x="1380" y="1112" font-size="31" text-anchor="middle" font-weight="normal" fill="#111" stroke="#111" stroke-width="0.15" font-family="Liberation Sans, sans-serif" >15</text>
<text x="1128" y="1268.5" font-size="31" text-anchor="middle" font-weight="normal" fill="#111" stroke="#111" stroke-width="0.15" font-family="Liberation Sans, sans-serif" >16</text>
<text x="1472" y="1502" font-size="25" text-anchor="middle" font-weight="normal" fill="#111" stroke="#111" stroke-width="0.7" font-family="Liberation Sans, sans-serif" textLength="126" lengthAdjust="spacingAndGlyphs">GARBAGE</text>
<text x="1472" y="1535.5" font-size="25" text-anchor="middle" font-weight="normal" fill="#111" stroke="#111" stroke-width="0.7" font-family="Liberation Sans, sans-serif" textLength="80" lengthAdjust="spacingAndGlyphs">CHUTE</text>
<line x1="1427.6" y1="1509" x2="1368.5" y2="1565" stroke="#000" stroke-width="3.2" />
<path d="M1512,1541 A19,19 0 0 0 1493,1522" stroke="#888" stroke-width="1" fill="none"/>
<circle cx="411.1" cy="644.4" r="22.5" fill="none" stroke="#555" stroke-width="1.2"/>
<line x1="411.1" y1="613.4" x2="411.1" y2="676.4" stroke="#555" stroke-width="1.1" />
<line x1="381.1" y1="644.4" x2="536.1" y2="644.4" stroke="#555" stroke-width="1.1" />
<text x="446.1" y="632.9" font-size="33" text-anchor="start" font-weight="normal" fill="#111" stroke="#111" stroke-width="0.7" font-family="Liberation Sans, sans-serif" >±0.00</text>
<circle cx="410.8" cy="1140" r="22.5" fill="none" stroke="#555" stroke-width="1.2"/>
<line x1="410.8" y1="1109" x2="410.8" y2="1172" stroke="#555" stroke-width="1.1" />
<line x1="380.8" y1="1140" x2="535.8" y2="1140" stroke="#555" stroke-width="1.1" />
<text x="445.8" y="1128.5" font-size="33" text-anchor="start" font-weight="normal" fill="#111" stroke="#111" stroke-width="0.7" font-family="Liberation Sans, sans-serif" >-3.60</text>
<circle cx="410.8" cy="1613" r="22.5" fill="none" stroke="#555" stroke-width="1.2"/>
<line x1="410.8" y1="1582" x2="410.8" y2="1645" stroke="#555" stroke-width="1.1" />
<line x1="380.8" y1="1613" x2="535.8" y2="1613" stroke="#555" stroke-width="1.1" />
<text x="445.8" y="1601.5" font-size="33" text-anchor="start" font-weight="normal" fill="#111" stroke="#111" stroke-width="0.7" font-family="Liberation Sans, sans-serif" >-10.60</text>
<circle cx="1051" cy="1423" r="22.5" fill="none" stroke="#555" stroke-width="1.2"/>
<line x1="1051" y1="1392" x2="1051" y2="1455" stroke="#555" stroke-width="1.1" />
<line x1="1021" y1="1423" x2="1176" y2="1423" stroke="#555" stroke-width="1.1" />
<text x="1086" y="1411.5" font-size="33" text-anchor="start" font-weight="normal" fill="#111" stroke="#111" stroke-width="0.7" font-family="Liberation Sans, sans-serif" >±0.00</text>
<path d="M1094.6,287.5 H1131.5 V319 H1140.8 L1113,342.3 L1085.4,319 H1094.6 Z" fill="#000"/>
<path d="M1102,1085 H1131 V1076 L1158,1104 L1131,1132 V1122 H1102 Z" fill="#000"/>
<path d="M996,97.7 L1044.8,121.7 L996,146 Z" fill="#000"/>
<path d="M1125.5,99.5 L1076.8,121.7 L1125.5,144" fill="none" stroke="#000" stroke-width="7" stroke-linejoin="miter" stroke-miterlimit="10"/>
<path d="M1102.8,109 V134.5" fill="none" stroke="#000" stroke-width="5.6"/>
<path d="M1000,2640 L1044,2664 L1000,2688 Z" fill="#000"/>
<path d="M1126,2640 L1078,2664.3 L1126,2688.6" fill="none" stroke="#000" stroke-width="7" stroke-linejoin="miter" stroke-miterlimit="10"/>
<path d="M1104,2650.5 V2678" fill="none" stroke="#000" stroke-width="5.6"/>
<path d="M47.5,1532.4 L71.5,1486 L95.5,1532.4 Z" fill="#000"/>
<path d="M1791.7,1532.4 L1816,1485.5 L1841.5,1532.4 Z" fill="#000"/>
<path d="M61.8,1468 V1412.6 H76.5 A12.2,12.2 0 0 1 76.5,1437 H61.8 M75.8,1437 H76.8 A15.5,15.5 0 0 1 76.8,1468 H59.6" fill="none" stroke="#000" stroke-width="5.2" stroke-linejoin="miter"/>
<path d="M1806.9,1468 V1412.6 H1821.6 A12.2,12.2 0 0 1 1821.6,1437 H1806.9 M1820.9,1437 H1821.9 A15.5,15.5 0 0 1 1821.9,1468 H1804.7" fill="none" stroke="#000" stroke-width="5.2" stroke-linejoin="miter"/>
<text x="0" y="0" font-size="66" font-weight="bold" text-anchor="middle" fill="#111" font-family="Liberation Sans, sans-serif" transform="translate(1259.6 2687.4) scale(1.15 1)">G</text>
<text x="0" y="0" font-size="66" font-weight="bold" text-anchor="middle" fill="#111" font-family="Liberation Sans, sans-serif" transform="translate(1326.8 2687.4) scale(0.72 1)">R</text>
<text x="0" y="0" font-size="66" font-weight="bold" text-anchor="middle" fill="#111" font-family="Liberation Sans, sans-serif" transform="translate(1384.7 2687.4) scale(1.1 1)">O</text>
<text x="0" y="0" font-size="66" font-weight="bold" text-anchor="middle" fill="#111" font-family="Liberation Sans, sans-serif" transform="translate(1454.9 2687.4) scale(1.05 1)">U</text>
<text x="0" y="0" font-size="66" font-weight="bold" text-anchor="middle" fill="#111" font-family="Liberation Sans, sans-serif" transform="translate(1521.6 2687.4) scale(1.12 1)">N</text>
<text x="0" y="0" font-size="66" font-weight="bold" text-anchor="middle" fill="#111" font-family="Liberation Sans, sans-serif" transform="translate(1587 2687.4) scale(0.97 1)">D</text>
<text x="0" y="0" font-size="66" font-weight="bold" text-anchor="middle" fill="#111" font-family="Liberation Sans, sans-serif" transform="translate(1673.6 2687.4) scale(1.05 1)">F</text>
<text x="0" y="0" font-size="66" font-weight="bold" text-anchor="middle" fill="#111" font-family="Liberation Sans, sans-serif" transform="translate(1726 2687.4) scale(0.82 1)">L</text>
<text x="0" y="0" font-size="66" font-weight="bold" text-anchor="middle" fill="#111" font-family="Liberation Sans, sans-serif" transform="translate(1776.5 2687.4) scale(1.14 1)">O</text>
<text x="0" y="0" font-size="66" font-weight="bold" text-anchor="middle" fill="#111" font-family="Liberation Sans, sans-serif" transform="translate(1851.3 2687.4) scale(1.14 1)">O</text>
<text x="0" y="0" font-size="66" font-weight="bold" text-anchor="middle" fill="#111" font-family="Liberation Sans, sans-serif" transform="translate(1908 2687.4) scale(0.74 1)">R</text>
<line x1="1288" y1="2775" x2="1313" y2="2720.5" stroke="#111" stroke-width="8.5" />
<text x="0" y="0" font-size="68.5" font-weight="bold" text-anchor="middle" fill="#111" font-family="Liberation Sans, sans-serif" transform="translate(1248 2771.6) scale(0.9 1)">1</text>
<text x="0" y="0" font-size="68.5" font-weight="bold" text-anchor="middle" fill="#111" font-family="Liberation Sans, sans-serif" transform="translate(1352 2771.6) scale(1.0 1)">2</text>
<text x="0" y="0" font-size="68.5" font-weight="bold" text-anchor="middle" fill="#111" font-family="Liberation Sans, sans-serif" transform="translate(1407 2771.6) scale(0.95 1)">0</text>
<text x="0" y="0" font-size="68.5" font-weight="bold" text-anchor="middle" fill="#111" font-family="Liberation Sans, sans-serif" transform="translate(1457.2 2771.6) scale(0.95 1)">0</text>
<path d="M327.7,661 C328.4,666.7 331.6,663.9 332.9,669.7 C334.2,675.4 333.7,673 331.8,678.3 C329.8,683.7 329.7,680.7 326.9,685.8 C324.1,690.8 327.6,689.8 323.4,693.6 C319.2,697.4 318.9,693.7 314.4,697.1 C309.9,700.6 312.4,698.3 309.9,703.9 C307.4,709.6 310.9,710.2 306.8,714 C302.7,717.9 303.3,713.8 297.6,715.4 C291.9,717 295.3,718.1 289.7,718.8 C284.1,719.6 286.5,718.4 280.8,717.6 C275.2,716.8 278.3,715 272.7,716.4 C267.1,717.7 269.7,720.5 264,721.6 C258.2,722.7 260.9,721.6 255.5,719.7 C250.1,717.7 252.9,718.3 247.7,715.7 C242.6,713.1 243.7,716.3 240,711.9 C236.3,707.5 240.1,707.2 236.7,702.6 C233.3,698 235.3,700.8 229.8,698.2 C224.3,695.6 224.2,698.8 220.1,694.8 C216,690.8 218.9,691.9 217.4,686.2 C215.9,680.6 216.1,683.5 215.5,677.8 C215,672.1 215.1,674.8 215.7,669.2 C216.3,663.6 218.2,666.6 217.4,661 C216.6,655.4 214.4,658.2 213.3,652.5 C212.2,646.7 212.2,649.1 214,643.8 C215.9,638.4 216,641.4 218.8,636.4 C221.6,631.4 218.4,632.6 222.4,628.7 C226.4,624.8 226.6,628.4 230.8,624.7 C235.1,621.1 232.5,623.1 235.3,617.8 C238.1,612.5 235,612.7 239.2,608.9 C243.4,605.2 242.2,608.2 247.8,606.5 C253.4,604.9 250.4,604.7 256,604 C261.5,603.3 259,604.1 264.6,604.4 C270.1,604.7 267.1,606.1 272.7,604.9 C278.3,603.7 275.6,601.8 281.4,600.7 C287.2,599.6 284.9,599.3 290.1,601.6 C295.4,603.9 292,604.8 297.1,607.5 C302.2,610.3 301.3,606.4 305.5,610 C309.7,613.6 306.3,613.7 309.7,618.3 C313.2,622.8 310.7,620.6 315.8,623.7 C320.8,626.7 321,623.3 325,627.4 C328.9,631.5 325.8,630.4 327.6,635.9 C329.5,641.5 329.3,638.5 330.5,644 C331.6,649.6 331.9,647 331,652.6 C330.1,658.3 327.1,655.3 327.7,661Z" fill="none" stroke="#66d966" stroke-width="2.8" stroke-linejoin="round"/>
<path d="M216.6,679.9 C217.8,678.2 217.5,674.8 220.1,674.8 C222.6,674.7 222.3,680.7 224.3,679.7 C226.3,678.8 223.3,673.4 226,672 C228.7,670.5 230.8,672.5 232.3,675.4 C233.9,678.4 232.9,678.2 230.7,680.8 C228.4,683.4 227.2,682.5 225.5,683.3M212.8,672.4 C214.7,672.3 216.2,673.7 218.5,672.1 C220.8,670.5 220.8,669.5 219.6,667.7 C218.4,666 216.4,667.2 214.8,666.9M223.9,627.6 C226.3,627.2 229.5,624 231.1,626.3 C232.7,628.7 226.5,633.5 228.7,634.6 C230.8,635.6 234.5,628.2 237.5,629.5 C240.5,630.7 239.8,634.4 237.8,638.4 C235.8,642.3 235.4,641.3 231.4,641.4 C227.4,641.6 227.7,639.7 225.8,638.8M229.2,617.6 C230.3,619.2 229.8,621.7 232.6,622.4 C235.4,623 236.5,622.1 237.5,619.6 C238.5,617 236.3,616.3 235.7,614.6M274.8,601.9 C275.8,603.5 278.5,604.4 277.8,606.7 C277.1,609.1 272.5,606.8 272.7,608.9 C272.8,611 277.9,610.1 278.2,613 C278.5,616 276.3,617.2 273.6,617.6 C270.9,618.1 271.3,617.3 270,614.3 C268.6,611.4 269.7,610.6 269.5,608.8M281.7,600.9 C281.3,602.7 279.8,603.7 280.3,606.3 C280.8,609 281.6,609.4 283.3,608.9 C285,608.3 284.7,606.1 285.4,604.7M320.9,626.6 C320.3,628.7 321.6,632.1 319.1,632.9 C316.5,633.8 314.9,627.6 313.2,629.1 C311.5,630.7 316.2,635.3 314,637.6 C311.7,639.8 309,638.4 306.5,635.9 C304,633.4 305,633.3 306.5,629.9 C307.9,626.6 309.4,627.2 310.9,625.8M327.1,633.2 C325.3,633.8 323.3,632.9 321.6,635.1 C320,637.3 320.3,638.4 322,639.8 C323.8,641.2 325.3,639.5 326.9,639.3M327.4,683.7 C325.3,684.5 323,688 321.2,686.3 C319.4,684.5 324,678.8 322,678.3 C320,677.8 318,685.3 315.1,684.8 C312.2,684.3 312.3,680.8 313.4,676.8 C314.5,672.8 314.9,673.7 318.4,672.7 C321.9,671.8 322,673.5 323.8,673.9M324.5,693.8 C323,692.5 322.9,690.1 320.1,689.9 C317.3,689.8 316.5,690.8 316.1,693.4 C315.6,696 318,696.3 318.9,697.7M265.6,719.7 C264.4,718.1 261,717 262,714.9 C263.1,712.9 268.9,715.5 268.8,713.6 C268.8,711.6 262.1,711.8 261.9,709.1 C261.7,706.4 264.6,705.5 268.2,705.5 C271.8,705.4 271.1,706.1 272.7,708.9 C274.3,711.8 272.9,712.4 272.9,714.1M256.5,719.9 C257.2,718.1 259.3,717.3 258.8,714.6 C258.3,711.9 257.2,711.4 255,711.7 C252.7,712 253,714.3 252,715.6" fill="none" stroke="#66d966" stroke-width="3" stroke-linejoin="round" stroke-linecap="round"/>
<path d="M499.7,1006 C502.3,1014 504.1,1010.5 503.9,1018.6 C503.7,1026.8 504,1023.5 499,1030.4 C494.1,1037.3 494.6,1033.3 489.1,1039.4 C483.7,1045.6 486,1041.7 482.7,1048.8 C479.3,1055.9 483.1,1053.9 479.2,1060.7 C475.2,1067.6 476.8,1064 470.9,1069.3 C465,1074.7 467.8,1071.8 461.5,1076.7 C455.1,1081.7 458.8,1080.4 451.8,1084.3 C444.7,1088.2 448.3,1088 440.2,1088.5 C432.1,1089 435.6,1086.9 427.5,1085.9 C419.4,1084.9 423.9,1084.2 416,1085.5 C408.1,1086.9 412.2,1088.5 403.9,1090 C395.7,1091.6 398.9,1092.7 391.3,1090.2 C383.7,1087.6 387.6,1087.6 381.1,1082.4 C374.6,1077.3 378.1,1079.6 371.8,1074.8 C365.5,1070 367.8,1073.3 362.3,1068 C356.8,1062.6 359.6,1065 355.2,1058.7 C350.8,1052.3 354.8,1054.7 349.2,1049 C343.5,1043.2 344.8,1047.4 338.2,1041.5 C331.6,1035.7 331.3,1039.3 329.5,1031.4 C327.6,1023.6 330.5,1026.4 332.7,1018 C335,1009.5 335.2,1013.8 336.2,1006 C337.3,998.2 335.6,1002.2 336,994.5 C336.4,986.8 335.7,990.5 337.5,982.9 C339.2,975.4 338.7,979.4 341.1,971.8 C343.5,964.2 341.9,968 344.7,960.2 C347.4,952.3 344.1,954.3 349.4,948.3 C354.8,942.4 352.7,945 360.8,942.3 C368.9,939.6 366.4,943.3 373.7,940.2 C381,937.1 376.8,939 382.7,933.1 C388.6,927.1 384.4,926.6 391.5,922.4 C398.5,918.2 395.5,921 403.7,920.5 C411.9,920.1 407.8,921 416,921.1 C424.2,921.2 420.5,919 428.3,920.8 C436,922.6 432.5,922 439.4,926.4 C446.2,930.9 441.9,930.4 448.8,934.1 C455.7,937.8 451.4,936.1 460,937.6 C468.6,939 467,934.9 474.6,938.4 C482.2,941.9 479.5,940.2 482.8,948.1 C486,956 481.7,954.2 484.3,962.1 C487,970 487,965 490.8,971.9 C494.5,978.7 493.8,975.1 495.5,982.6 C497.3,990.2 494.6,986.7 496,994.5 C497.4,1002.3 497.1,998 499.7,1006Z" fill="none" stroke="#66d966" stroke-width="2.8" stroke-linejoin="round"/>
<path d="M334,990.7 C336.8,989.2 339,984.3 342.5,986.2 C346,988.1 341.1,996.1 344.5,996.4 C347.8,996.6 347.9,986.8 352.6,986.9 C357.3,986.9 358.6,991.2 358.5,996.5 C358.4,1001.8 357.3,1000.8 352.2,1002.7 C347.2,1004.6 346.3,1002.4 343.4,1002.3M334.7,977.4 C337.1,978.7 338,981.7 341.9,981.2 C345.8,980.7 346.6,979.2 346.4,975.9 C346.1,972.6 342.9,972.8 341.1,971.2M402,923.8 C404.7,925.4 411.2,925.3 410.2,928.5 C409.3,931.8 398.2,930.9 399.2,933.5 C400.1,936.1 411.5,932.8 413,936.3 C414.6,939.7 410.1,942.2 403.9,944 C397.8,945.7 398.6,944.5 394.6,941.5 C390.6,938.4 392.8,937 391.9,934.7M417.6,919.4 C417.1,922.1 413.9,924.1 416,927.5 C418.1,930.9 420.1,931.1 423.8,929.6 C427.5,928.1 426,925.2 427.2,923M482,955 C481.6,957.9 484.1,962.8 480.8,963.8 C477.5,964.7 474.1,955.8 472.2,957.8 C470.2,959.9 477.4,966.9 474.9,970 C472.3,973 468.4,970.8 464.5,966.9 C460.6,963.1 462,963.1 463.2,958.4 C464.5,953.7 466.6,954.7 468.3,952.9M491.8,964.8 C489.2,965.7 486.3,964.3 484.1,967.6 C481.9,970.8 482.5,972.5 485.2,974.6 C487.9,976.7 489.9,974.1 492.3,973.9M492.9,1038.4 C489.9,1039.3 486.8,1043.7 484.1,1041.2 C481.3,1038.7 487.6,1031.9 484.5,1031 C481.5,1030.2 479.2,1039.6 475,1038.7 C470.7,1037.7 470.4,1033.3 471.7,1028.2 C473,1023.1 473.8,1024.3 478.8,1023.4 C483.9,1022.5 484.2,1024.8 486.9,1025.5M489.3,1051.2 C487.3,1049.5 487,1046.3 483.1,1046 C479.2,1045.6 478.1,1046.9 477.6,1050.2 C477.2,1053.4 480.4,1053.9 481.8,1055.8M454.1,1080.2 C451.1,1079.5 445.5,1081.2 445.3,1078 C445.2,1074.7 455.1,1072.6 453.5,1070.4 C451.9,1068.2 443,1074.3 440.5,1071.5 C438,1068.6 441.3,1065.1 446.1,1061.8 C451,1058.6 450.7,1059.9 455.1,1061.7 C459.6,1063.6 458,1065.5 459.5,1067.3M441.7,1088.5 C441.3,1085.8 443.5,1083.1 440.6,1080.4 C437.7,1077.7 435.8,1078 433,1080.4 C430.2,1082.8 432.5,1085.2 432.2,1087.6M372.7,1077.3 C372.5,1074.3 369.3,1070.8 372.1,1068.2 C375,1065.5 379.8,1072.3 381.2,1069.3 C382.7,1066.3 374.6,1063.4 376.4,1059.1 C378.2,1054.8 382.3,1054.8 386.6,1056.5 C390.9,1058.1 389.6,1058.8 389.3,1064 C389,1069.2 386.9,1069.3 385.7,1072M362,1072.8 C363.9,1071 366.8,1071 367.8,1067.3 C368.8,1063.6 367.9,1062.3 365.1,1061.6 C362.3,1060.9 361.2,1064 359.3,1065.1" fill="none" stroke="#66d966" stroke-width="3" stroke-linejoin="round" stroke-linecap="round"/>
<path d="M386.7,1309.5 C384.2,1317.1 381.5,1312.9 379.5,1320.4 C377.5,1327.9 380.9,1324.3 380.8,1332.1 C380.7,1340 381.4,1336.4 379.3,1344 C377.2,1351.6 378.3,1348 374.4,1354.9 C370.5,1361.9 374.1,1360.4 367.6,1364.9 C361,1369.4 361.9,1364.8 354.8,1368.5 C347.7,1372.1 351.7,1370 346.4,1375.9 C341,1381.8 345,1381.3 338.7,1386.1 C332.3,1390.8 335,1387.8 327.4,1390.1 C319.7,1392.5 323.6,1392.4 315.7,1393.2 C307.8,1394 311.3,1395.7 303.7,1392.6 C296.1,1389.6 300.7,1385.7 293,1384.1 C285.3,1382.6 288.9,1387 280.7,1388 C272.4,1389 275.6,1389.9 268.3,1387.1 C261,1384.3 265.6,1383.8 258.7,1379.5 C251.8,1375.3 252.5,1380.4 247.5,1374.3 C242.6,1368.2 246.7,1369.1 243.9,1361.3 C241.2,1353.5 245.1,1356.4 239.3,1350.9 C233.5,1345.4 231.7,1350.7 226.5,1344.8 C221.3,1338.8 225.7,1340.8 223.7,1333 C221.7,1325.2 220.9,1329.3 220.4,1321.5 C219.9,1313.6 219.8,1317.2 222.1,1309.5 C224.4,1301.8 226.1,1306.2 227.3,1298.5 C228.4,1290.9 225.9,1294.7 225.6,1286.6 C225.3,1278.5 224,1281.8 226.5,1274.2 C228.9,1266.7 228.7,1270.9 232.9,1264 C237.1,1257.1 232.8,1258.3 238.9,1253.4 C245.1,1248.5 243.8,1252.2 251.5,1249.2 C259.1,1246.2 256.2,1250.1 261.8,1244.4 C267.5,1238.7 262.2,1237 268.4,1232.2 C274.5,1227.3 272.6,1232.3 280.3,1229.8 C288,1227.3 283.7,1226 291.5,1224.6 C299.3,1223.3 296.1,1222.3 303.7,1225.8 C311.3,1229.2 306.8,1232.9 314.4,1235 C322,1237.2 318.4,1232.7 326.4,1232.2 C334.4,1231.7 330.8,1231.3 338.4,1233.4 C346.1,1235.5 342.4,1234.6 349.3,1238.5 C356.3,1242.5 354.7,1238.9 359.3,1245.3 C364,1251.7 360.3,1250.3 363.4,1257.8 C366.5,1265.3 363,1262.2 368.6,1267.8 C374.3,1273.4 375.5,1268.4 380.4,1274.5 C385.2,1280.6 381,1278.5 383.2,1286.1 C385.5,1293.8 385.9,1289.7 387.1,1297.5 C388.3,1305.3 389.3,1301.9 386.7,1309.5Z" fill="none" stroke="#66d966" stroke-width="2.8" stroke-linejoin="round"/>
<path d="M234.9,1264.9 C238.1,1264.4 242.3,1260.4 244.6,1263.5 C247,1266.6 239.1,1272.8 242,1274.2 C245,1275.6 249.3,1266 253.6,1267.7 C257.8,1269.4 257.2,1274.2 254.8,1279.4 C252.4,1284.6 251.8,1283.2 246.4,1283.3 C241,1283.4 241.1,1280.9 238.5,1279.7M241.3,1252 C243,1254.1 242.5,1257.4 246.3,1258.3 C250,1259.2 251.5,1258 252.6,1254.6 C253.8,1251.3 250.8,1250.3 249.8,1248.1M321.9,1229.6 C323.8,1232.5 329.9,1235.1 327.7,1238.3 C325.4,1241.5 315.3,1235.9 315,1239.2 C314.8,1242.4 327,1243.5 327,1248.1 C327,1252.6 321.6,1253.4 315,1252.8 C308.5,1252.1 309.7,1251.2 307.2,1246.1 C304.8,1241 307.5,1240.3 307.6,1237.5M338.5,1231.6 C336.9,1233.9 333.2,1234.5 333.9,1238.4 C334.5,1242.3 336.4,1243.3 340.5,1243.3 C344.6,1243.4 344.3,1240.2 346.2,1238.6M378.2,1275.4 C377.6,1278.3 379.3,1284.3 376.2,1284.2 C373.1,1284 371,1273.5 369,1274.9 C367,1276.4 372.8,1286.3 370.2,1288.5 C367.5,1290.8 364.2,1287.1 361,1281.7 C357.9,1276.3 359.1,1276.8 360.8,1272.4 C362.5,1268 364.3,1269.8 366,1268.5M386.3,1289 C383.6,1289.2 380.9,1286.7 378.2,1289.6 C375.5,1292.4 375.7,1294.3 378.1,1297.4 C380.4,1300.6 382.9,1298.4 385.3,1298.9M362.8,1366.3 C359.6,1366 355.1,1369 353.3,1365.6 C351.5,1362.2 360.1,1357.9 357.4,1356 C354.8,1354 349.1,1362.2 345.3,1359.7 C341.5,1357.2 342.9,1352.8 346,1348.4 C349.1,1344 349.4,1345.4 354.6,1346.5 C359.9,1347.5 359.3,1349.8 361.7,1351.5M354.7,1377.2 C353.4,1374.8 354.4,1371.8 350.9,1370.2 C347.4,1368.5 345.9,1369.3 344.2,1372.2 C342.5,1375.2 345.3,1376.8 345.9,1379M294.2,1390.9 C292.1,1388.8 286.2,1387.2 287.9,1384.5 C289.6,1381.9 299.6,1385.6 299.4,1383.1 C299.2,1380.5 287.9,1380.5 287.3,1376.9 C286.8,1373.4 291.6,1372.4 297.8,1372.5 C303.9,1372.6 302.9,1373.4 305.7,1377.2 C308.6,1381 306.2,1381.6 306.4,1383.9M278.6,1390.8 C279.9,1388.4 283.3,1387.4 282.3,1383.6 C281.3,1379.8 279.5,1379 275.7,1379.4 C271.9,1379.8 272.5,1383 270.8,1384.8M230.9,1347.2 C231.9,1345 231,1341.1 234,1340.6 C237,1340 237.7,1347 239.9,1345.6 C242,1344.1 237.6,1338.4 240.5,1336.2 C243.3,1334.1 246.1,1336 248.5,1339.1 C250.8,1342.2 249.7,1342.1 247.5,1345.6 C245.3,1349.1 243.8,1348.2 241.9,1349.5M224.9,1339.3 C227.4,1338.7 229.6,1339.8 232.5,1337.4 C235.3,1334.9 235.3,1333.6 233.5,1331.9 C231.6,1330.2 229.1,1332.1 227,1332.2" fill="none" stroke="#66d966" stroke-width="3" stroke-linejoin="round" stroke-linecap="round"/>
<path d="M364.1,1447.6 C364.1,1451.5 363.2,1449.5 362.4,1453.5 C361.5,1457.4 362.6,1455.6 361.6,1459.3 C360.6,1463.1 361.6,1461.7 359.2,1464.8 C356.8,1467.9 356.5,1465.4 354.5,1468.7 C352.4,1472.1 354.5,1470.9 353,1474.8 C351.6,1478.8 353.1,1477.9 350.1,1480.5 C347.2,1483.1 348.1,1481.5 344.1,1482.6 C340.1,1483.7 341.9,1482.7 338.2,1483.9 C334.5,1485.1 336.6,1485.4 333,1486.3 C329.3,1487.2 331,1485.7 327.2,1486.6 C323.4,1487.4 325.6,1487 321.6,1488.8 C317.6,1490.5 319.2,1492.1 315.3,1491.7 C311.3,1491.4 313.2,1490.5 309.8,1487.7 C306.5,1484.9 308.8,1485.2 305.3,1483.3 C301.8,1481.5 302.9,1483.8 299.3,1482.2 C295.8,1480.7 297.7,1481.1 294.7,1478.6 C291.7,1476.1 293.5,1477.3 290.3,1474.7 C287.1,1472.2 287.2,1474.4 285.1,1471.1 C283,1467.7 284.2,1469 284,1464.8 C283.8,1460.6 285.5,1462.3 284.4,1458.5 C283.2,1454.8 282.3,1457.1 280.6,1453.5 C278.8,1449.9 279.3,1451.6 279.2,1447.6 C279,1443.6 279.5,1445.6 280.2,1441.6 C280.9,1437.7 279.8,1439.4 281.3,1435.8 C282.7,1432.1 281.8,1433.6 284.5,1430.6 C287.2,1427.7 287.4,1430.2 289.4,1426.9 C291.4,1423.6 289.2,1424.6 290.4,1420.6 C291.7,1416.6 290.4,1417.6 293.2,1414.8 C296,1412 295,1413.5 298.8,1412.1 C302.7,1410.8 300.9,1411.8 304.7,1410.6 C308.5,1409.4 306.4,1409.2 310.1,1408.5 C313.9,1407.7 312.1,1409.4 316,1408.4 C319.8,1407.4 317.6,1407 321.6,1405.6 C325.6,1404.1 324,1403.3 327.9,1403.9 C331.8,1404.6 330,1404.8 333.4,1407.5 C336.7,1410.1 334.5,1409.9 337.9,1411.8 C341.4,1413.8 340.1,1411.8 343.7,1413.3 C347.2,1414.8 345.5,1414 348.7,1416.4 C351.9,1418.7 350.1,1417.6 353.2,1420.2 C356.3,1422.8 356.1,1420.8 357.9,1424.3 C359.7,1427.8 358.5,1426.5 358.5,1430.7 C358.6,1434.9 356.8,1433.2 358.1,1436.9 C359.5,1440.5 360.6,1438.1 362.6,1441.7 C364.5,1445.3 364.2,1443.7 364.1,1447.6Z" fill="none" stroke="#66d966" stroke-width="2.8" stroke-linejoin="round"/>
<path d="M362.8,1449.4 C361.6,1450.3 361,1452.5 359.3,1451.9 C357.7,1451.3 359.3,1447.6 357.8,1447.7 C356.3,1447.8 356.9,1452 354.8,1452.2 C352.8,1452.5 351.9,1450.7 351.7,1448.4 C351.4,1446.2 351.9,1446.5 354,1445.4 C356.1,1444.3 356.6,1445.2 358,1445.1M363.4,1455.2 C362.1,1454.8 361.5,1453.6 359.6,1454 C357.7,1454.4 357.4,1455.1 357.8,1456.5 C358.2,1457.9 359.7,1457.6 360.7,1458.2M322.6,1488.8 C321.7,1487.8 319.4,1487.3 319.9,1485.7 C320.4,1484.1 324.4,1485.4 324.1,1484 C323.9,1482.7 319.6,1483.5 319.2,1481.5 C318.8,1479.6 320.6,1478.7 322.9,1478.3 C325.3,1477.9 324.9,1478.4 326.2,1480.3 C327.5,1482.2 326.6,1482.8 326.9,1484M316.7,1489.8 C317,1488.5 318.3,1487.8 317.7,1486 C317.1,1484.1 316.4,1483.9 314.9,1484.3 C313.5,1484.8 313.9,1486.3 313.4,1487.3M280.6,1452 C281.4,1451 281.6,1448.5 283.1,1448.9 C284.5,1449.3 283.8,1453.6 285,1453.3 C286.2,1453 285.1,1448.5 286.7,1448 C288.4,1447.4 289.4,1449.2 290,1451.6 C290.5,1454 290,1453.7 288.5,1455.2 C286.9,1456.7 286.3,1455.8 285.3,1456.1M279.1,1446 C280.4,1446.2 281.3,1447.4 283,1446.7 C284.8,1445.9 285,1445.1 284.4,1443.7 C283.8,1442.2 282.3,1442.8 281.3,1442.3M291.5,1419.5 C292.9,1419.6 294.8,1418.3 295.7,1419.9 C296.6,1421.4 292.9,1423.1 294.1,1424 C295.3,1424.9 297.6,1421.4 299.3,1422.5 C301.1,1423.7 300.6,1425.6 299.3,1427.5 C298,1429.4 297.9,1428.7 295.5,1428.2 C293.2,1427.7 293.4,1426.7 292.3,1425.9M294.7,1414.7 C295.4,1415.8 295.1,1417.2 296.8,1418.1 C298.5,1419 299.2,1418.6 299.8,1417.3 C300.5,1416 299.1,1415.2 298.7,1414.2M341.9,1411.7 C342.1,1413.1 343.8,1414.8 342.5,1416.1 C341.1,1417.3 338.5,1414 337.9,1415.5 C337.3,1416.9 341.4,1418.3 340.6,1420.4 C339.9,1422.4 337.9,1422.4 335.7,1421.6 C333.4,1420.8 334,1420.5 334,1418 C334,1415.5 335,1415.4 335.6,1414.2M347.4,1413.8 C346.5,1414.8 345,1414.8 344.6,1416.6 C344.1,1418.5 344.6,1419.1 346.1,1419.4 C347.5,1419.8 348,1418.2 348.9,1417.6" fill="none" stroke="#66d966" stroke-width="3" stroke-linejoin="round" stroke-linecap="round"/>
<path d="M442.8,1714.8 C444.2,1719.5 446.3,1717.5 446.5,1722.2 C446.7,1727 445.4,1724.6 443.5,1729 C441.5,1733.5 442.6,1731.2 440.6,1735.6 C438.7,1740 440.8,1738.7 437.7,1742.2 C434.5,1745.7 434.7,1742.9 431.3,1746.2 C427.9,1749.6 430.2,1748.1 427.5,1752.4 C424.9,1756.6 427.3,1756.2 423.5,1759.1 C419.7,1762 421.2,1760.9 416.1,1761.1 C411,1761.2 412.9,1758.7 408.1,1759.6 C403.4,1760.4 406.4,1761.5 402,1763.6 C397.6,1765.7 399.7,1765.8 395,1766 C390.3,1766.1 392.7,1764.9 387.9,1764.1 C383.1,1763.3 385.1,1765.2 380.7,1763.5 C376.3,1761.9 378.6,1762 374.7,1759.2 C370.9,1756.3 373.7,1756.7 369.2,1754.9 C364.8,1753.1 365.9,1755.6 361.3,1753.7 C356.6,1751.9 357.8,1753.3 355.2,1749.3 C352.6,1745.2 354.5,1746.5 353.4,1741.5 C352.3,1736.6 354,1738.7 351.9,1734.5 C349.7,1730.3 348.8,1733.1 346.9,1728.9 C344.9,1724.7 346.9,1726.5 346,1721.8 C345.2,1717.1 345.2,1719.6 344.3,1714.8 C343.5,1710 341.7,1711.8 343.6,1707.4 C345.5,1703 347.3,1705.7 350,1701.6 C352.8,1697.5 351.8,1700.3 351.8,1695.1 C351.8,1689.8 348.8,1690.7 350,1685.9 C351.3,1681.1 351.1,1683.2 355.6,1680.7 C360.1,1678.2 359.3,1681 363.4,1678.4 C367.6,1675.8 364.3,1675.6 368,1672.8 C371.7,1670 370.3,1672.1 374.5,1670 C378.8,1667.8 376.4,1668.7 380.8,1666.4 C385.1,1664.1 382.8,1663.8 387.6,1663.1 C392.3,1662.4 390.3,1662.4 395,1664.2 C399.7,1666 396.9,1667.9 401.7,1668.5 C406.4,1669.1 404.2,1666.8 409.3,1666.1 C414.4,1665.4 412.9,1664.2 417.1,1666.4 C421.3,1668.7 418.5,1669.2 421.9,1672.9 C425.3,1676.6 424,1674.3 427.2,1677.6 C430.5,1681 429,1679.2 431.7,1683 C434.4,1686.8 432,1685.4 435.3,1688.9 C438.5,1692.5 438.1,1689.9 441.4,1693.6 C444.8,1697.3 444.9,1695.3 445.2,1700 C445.6,1704.8 443.3,1703.1 442.5,1708 C441.7,1712.9 441.5,1710.1 442.8,1714.8Z" fill="none" stroke="#66d966" stroke-width="2.8" stroke-linejoin="round"/>
<path d="M444.7,1720.3 C443.3,1721.2 442.4,1723.9 440.7,1723.1 C439,1722.3 441.1,1717.7 439.5,1717.8 C437.9,1717.8 438.1,1723 435.9,1723.2 C433.6,1723.4 432.8,1721.1 432.8,1718.3 C432.7,1715.5 433.2,1716 435.6,1714.8 C437.9,1713.5 438.4,1714.6 439.8,1714.6M444.9,1727.4 C443.4,1726.8 442.7,1725.3 440.4,1725.6 C438.1,1726 437.7,1726.9 438,1728.6 C438.4,1730.4 440.3,1730.2 441.4,1730.9M401.7,1764.3 C400.4,1763.2 397.6,1762.9 397.9,1760.9 C398.3,1759 403.2,1760 402.8,1758.4 C402.4,1756.7 397.4,1758.2 396.6,1756 C395.9,1753.7 397.9,1752.4 400.6,1751.6 C403.3,1750.8 403,1751.5 404.8,1753.6 C406.6,1755.7 405.6,1756.5 406,1757.9M394.8,1766.3 C395,1764.7 396.4,1763.6 395.4,1761.5 C394.5,1759.4 393.6,1759.2 392,1759.9 C390.3,1760.6 391,1762.5 390.5,1763.7M354.2,1743.7 C354.9,1742.1 354.1,1739.8 356.1,1739.1 C358.1,1738.3 358.9,1742.6 360.3,1741.4 C361.7,1740.2 358.5,1737.2 360.3,1735.4 C362.2,1733.6 364.2,1734.4 365.9,1736.1 C367.6,1737.7 366.9,1737.8 365.5,1740.3 C364.2,1742.8 363.1,1742.5 361.8,1743.6M350,1739.4 C351.4,1738.8 352.9,1739.4 354.4,1737.6 C355.9,1735.9 355.8,1735.1 354.5,1734.3 C353.3,1733.4 351.9,1734.8 350.6,1735M363.4,1676.1 C365.2,1676 368.3,1674.2 368.6,1675.9 C369,1677.6 363.4,1680.4 364.5,1681.3 C365.6,1682.2 370.3,1677.5 371.9,1678.6 C373.5,1679.7 371.9,1682.1 369.4,1684.7 C366.8,1687.2 366.9,1686.4 364.2,1686.2 C361.5,1685.9 362.3,1684.6 361.3,1683.9M369.8,1669.5 C370.4,1671.1 369.4,1673 371.5,1674.2 C373.5,1675.4 374.6,1675 376,1673.2 C377.3,1671.4 375.7,1670.3 375.6,1668.8M419.3,1671.1 C420,1672.7 422.9,1675 421.4,1675.9 C420,1676.9 415.2,1672.7 414.8,1674 C414.4,1675.4 420.6,1678 420.2,1680 C419.7,1681.9 416.9,1681.3 413.5,1679.8 C410.2,1678.4 410.9,1678.2 410.1,1675.6 C409.3,1672.9 410.8,1673.2 411.1,1672M427.9,1674.7 C426.6,1675.8 424.5,1675.6 424.1,1678 C423.8,1680.3 424.6,1681.2 426.8,1681.8 C429,1682.5 429.4,1680.5 430.8,1679.9" fill="none" stroke="#66d966" stroke-width="3" stroke-linejoin="round" stroke-linecap="round"/>
<path d="M546.8,2029 C547.6,2032.8 548.2,2031 548.3,2034.9 C548.5,2038.8 547.6,2036.6 547.2,2040.7 C546.8,2044.8 548.4,2043.3 547.1,2047.1 C545.8,2050.9 546.8,2049.7 543.3,2052.1 C539.9,2054.5 540,2052 536.7,2054.4 C533.5,2056.8 536.2,2056.5 533.7,2059.3 C531.1,2062.1 532.2,2060.5 529.1,2062.8 C526,2065.1 527.5,2063.4 524.4,2066.2 C521.3,2069 523.4,2069.5 519.8,2071.3 C516.2,2073.1 517.7,2072.5 513.5,2071.6 C509.4,2070.6 511.4,2069.2 507.4,2068.4 C503.4,2067.6 505.4,2069.5 501.6,2069.3 C497.8,2069 499.7,2068.8 496.1,2067.6 C492.4,2066.4 494.8,2066.2 490.7,2065.7 C486.6,2065.1 487.6,2067.2 483.7,2065.8 C479.9,2064.4 481.4,2065 479.2,2061.5 C477,2058 479.3,2058.7 477.2,2055.2 C475.1,2051.8 475,2054.3 472.9,2051.2 C470.9,2048 472.1,2049.3 470.9,2045.7 C469.8,2042 471.6,2043.6 469.5,2040.1 C467.4,2036.6 466.1,2038.9 464.6,2035.2 C463.1,2031.4 464.5,2033 465.1,2029 C465.7,2025 465.6,2027 466.4,2023.1 C467.1,2019.2 465.4,2020.7 467.2,2017.2 C468.9,2013.7 469.4,2015.9 471.6,2012.7 C473.8,2009.4 472.6,2011.3 473.8,2007.4 C475.1,2003.6 473.2,2004.5 475.3,2001.2 C477.4,1997.8 477,2000.1 480.1,1997.5 C483.1,1994.9 481.3,1995.7 484.5,1993.3 C487.7,1991 485.8,1991.1 489.8,1990.4 C493.7,1989.7 492.3,1991.3 496.3,1991.2 C500.3,1991 498.1,1991.6 501.8,1989.9 C505.5,1988.2 503.6,1986.7 507.4,1986.1 C511.2,1985.4 509.3,1987.3 513.3,1987.9 C517.3,1988.6 515.4,1987.5 519.4,1988.1 C523.4,1988.8 522.2,1987.3 525.3,1989.8 C528.4,1992.4 526,1992.8 528.7,1995.9 C531.4,1998.9 529.7,1997.3 533.3,1999.1 C536.9,2000.9 536.5,1998.7 539.5,2001.2 C542.5,2003.7 540.1,2003.2 542.4,2006.5 C544.6,2009.9 544.2,2007.8 546.2,2011.3 C548.2,2014.8 548.4,2012.9 548.3,2017 C548.2,2021 546.4,2019.5 545.9,2023.5 C545.4,2027.5 545.9,2025.2 546.8,2029Z" fill="none" stroke="#66d966" stroke-width="2.8" stroke-linejoin="round"/>
<path d="M537.5,2057.1 C536.1,2057 534.3,2058.1 533.4,2056.6 C532.4,2055.1 536,2053.5 534.8,2052.6 C533.6,2051.6 531.4,2055 529.7,2053.9 C527.9,2052.7 528.4,2050.8 529.5,2049 C530.7,2047.2 530.9,2047.8 533.2,2048.4 C535.5,2049 535.4,2050 536.5,2050.8M534.5,2061.7 C533.7,2060.6 534,2059.2 532.3,2058.3 C530.7,2057.4 530,2057.7 529.4,2059 C528.8,2060.2 530.2,2061.1 530.6,2062.1M488,2065.4 C487.4,2064 485.1,2062.2 486.4,2061.2 C487.6,2060.3 491.4,2063.7 491.8,2062.5 C492.2,2061.2 487.2,2059.3 487.6,2057.5 C488,2055.7 490.4,2056.1 493.1,2057.2 C495.8,2058.3 495.2,2058.5 495.7,2060.8 C496.3,2063.1 495.1,2063 494.7,2064.1M481.1,2062.6 C482.1,2061.7 483.8,2061.8 484.1,2059.9 C484.3,2058 483.7,2057.3 481.9,2056.8 C480.1,2056.3 479.8,2057.9 478.7,2058.5M466.3,2026.4 C467.3,2025.4 467.9,2022.7 469.3,2023.5 C470.7,2024.2 469.1,2028.7 470.4,2028.6 C471.7,2028.4 471.3,2023.4 473.1,2023.1 C474.8,2022.8 475.5,2024.9 475.6,2027.6 C475.8,2030.4 475.3,2029.9 473.5,2031.3 C471.7,2032.6 471.3,2031.6 470.2,2031.7M465.8,2019.5 C467.1,2020 467.7,2021.5 469.6,2021 C471.5,2020.5 471.8,2019.6 471.5,2017.9 C471.2,2016.2 469.6,2016.6 468.6,2015.9M506.4,1987.8 C507.4,1989 510,1989.5 509.5,1991.4 C508.9,1993.2 504.5,1991.7 504.7,1993.3 C505,1995 509.8,1994 510.2,1996.3 C510.7,1998.5 508.7,1999.6 506.1,2000 C503.5,2000.5 503.9,1999.9 502.4,1997.7 C501,1995.5 501.9,1994.8 501.7,1993.4M513,1986.8 C512.6,1988.1 511.2,1988.8 511.9,1990.6 C512.5,1992.5 513.3,1992.7 514.9,1992.3 C516.5,1991.8 516.1,1990.2 516.7,1989.2M539.9,2003.7 C539.9,2005.1 541.2,2007.6 539.7,2007.9 C538.2,2008.3 536.3,2003.8 535.5,2004.7 C534.6,2005.6 538.3,2009.3 537.2,2010.7 C536.2,2012.1 534.2,2010.9 532.3,2008.8 C530.3,2006.8 530.9,2006.9 531.3,2004.6 C531.7,2002.4 532.8,2003 533.5,2002.2M545,2008.8 C543.7,2009.2 542.2,2008.5 541.2,2010.1 C540.1,2011.7 540.4,2012.6 541.8,2013.7 C543.2,2014.8 544.2,2013.5 545.3,2013.4" fill="none" stroke="#66d966" stroke-width="3" stroke-linejoin="round" stroke-linecap="round"/>
<path d="M583,2131.7 C584.6,2132.7 584.7,2134.2 587.9,2134.7 C591.1,2135.1 589.4,2134 592.6,2133.1 C595.8,2132.2 594.3,2131.5 597.5,2131.9 C600.8,2132.4 598.9,2134.4 602.3,2134.5 C605.7,2134.6 604.5,2132.9 607.8,2132.1 C611,2131.4 608.8,2131.2 612.1,2132.3 C615.3,2133.5 614.5,2134 617.6,2135.6 C620.6,2137.3 618,2137.1 621.2,2137.3 C624.4,2137.5 623.4,2137.2 627.1,2136.2 C630.7,2135.2 629.3,2134.2 632.1,2134.4 C635,2134.6 633.3,2136.3 635.7,2136.8 C638.1,2137.3 636.7,2136.1 639.3,2135.8 C641.9,2135.5 640.5,2134.8 643.4,2135.9 C646.3,2137 644.7,2137.4 648.1,2139.1 C651.5,2140.8 650.1,2140 653.7,2141 C657.3,2142.1 655.4,2141.5 658.8,2142.3 C662.2,2143.2 660.8,2141.9 663.9,2143.5 C667.1,2145 664.7,2145.8 668.1,2147.1 C671.5,2148.4 670.4,2148 674.1,2147.3 C677.9,2146.6 676.3,2145.9 679.4,2145.1 C682.5,2144.3 680.9,2144.3 683.5,2145 C686.1,2145.7 684.4,2146.5 687.2,2147.1 C689.9,2147.8 688.7,2147.1 691.7,2146.9 C694.6,2146.7 692.8,2148.8 696.1,2146.5 C699.5,2144.2 698.5,2141.1 701.7,2140.1 C704.9,2139 702.9,2142.6 705.8,2143.2 C708.7,2143.8 707.4,2144.4 710.4,2141.8 C713.5,2139.3 711.7,2137.1 714.9,2135.6 C718.1,2134 716.9,2138.3 720,2137.2 C723.1,2136.1 721.3,2132.9 724.2,2132.3 C727,2131.6 725.3,2136.1 728.5,2135.3 C731.8,2134.5 730.7,2131.9 733.9,2129.7 C737.1,2127.6 735.4,2128.1 738,2128.9 C740.6,2129.6 739.1,2131.4 741.7,2131.9 C744.2,2132.4 742.8,2131.5 745.6,2130.4 C748.5,2129.3 746.9,2129.2 750.2,2128.5 C753.5,2127.8 752.1,2128.3 755.6,2128.4 C759,2128.5 757.5,2128.3 760.7,2128.8 C763.9,2129.3 762.3,2128 765.2,2129.8 C768.1,2131.6 766.2,2133.6 769.4,2134.1 C772.6,2134.7 771.2,2132.3 774.9,2131.5 C778.6,2130.6 777.2,2130.4 780.6,2131.6 C784,2132.9 781.9,2135.2 785.1,2135.2 C788.3,2135.3 786.5,2132.7 790.2,2131.8 C793.9,2131 792.8,2131.4 796.2,2132.7 C799.6,2134 797.5,2135.5 800.3,2135.7 C803.1,2136 802,2134.6 804.6,2133.6 C807.3,2132.6 805.5,2132.7 808.3,2132.8 C811.2,2132.9 810,2133.2 813.3,2134 C816.6,2134.8 815.1,2133.6 818.3,2135.2 C821.5,2136.8 819.8,2137.9 822.9,2138.8 C826,2139.7 824.2,2138.4 827.6,2137.8 C831.1,2137.2 830.1,2135.8 833.3,2137.1 C836.5,2138.5 834,2140.8 837.2,2141.8 C840.3,2142.7 839.6,2139.4 842.7,2140 C845.9,2140.6 843.4,2142.8 846.7,2143.5 C850,2144.3 848.6,2141.2 852.6,2142.3 C856.5,2143.4 854.8,2145.9 858.4,2147 C862.1,2148 860.5,2146.4 863.4,2145.3 C866.4,2144.3 864,2143.9 867.2,2143.7 C870.4,2143.5 869.4,2144.5 873.1,2144.6 C876.8,2144.8 874.8,2144.1 878.4,2144.2 C882,2144.2 880.7,2145.6 883.9,2144.7 C887.2,2143.8 885,2143.3 888.2,2141.4 C891.3,2139.6 890.3,2139.6 893.5,2139.1 C896.6,2138.7 894.3,2140.4 897.5,2140.1 C900.8,2139.8 899.9,2138.8 903.2,2138.2 C906.4,2137.5 904.6,2140.1 907.4,2138.1 C910.1,2136.1 908.6,2133.9 911.4,2132.2 C914.1,2130.5 912.9,2133.5 915.5,2133 C918.2,2132.5 916.5,2131.1 919.2,2130.6 C921.9,2130.2 920.9,2131.9 923.6,2131.6 C926.4,2131.4 924.3,2129.7 927.5,2130 C930.6,2130.3 929.6,2132.2 933.2,2132.5 C936.8,2132.9 935,2132.4 938.3,2131 C941.7,2129.6 940.4,2129.4 943.3,2128.5 C946.1,2127.5 943.7,2126.9 946.9,2128.1 C950,2129.4 948.8,2131.7 952.6,2132.2 C956.5,2132.6 954.9,2129.4 958.6,2129.5 C962.2,2129.6 960.2,2131.5 963.6,2132.4 C967.1,2133.3 965.2,2132.5 969,2132.2 C972.7,2131.9 971.3,2130.5 975,2131.5 C978.6,2132.5 976.3,2133.8 979.8,2135.1 C983.4,2136.4 981.9,2135.2 985.6,2135.4 C989.3,2135.7 987.2,2136.4 990.8,2136 C994.5,2135.5 993,2133.7 996.6,2134.1 C1000.3,2134.6 998.2,2136.8 1001.8,2137.3 C1005.5,2137.8 1003.8,2135.1 1007.5,2135.6 C1011.2,2136 1009.5,2137.7 1013,2138.7 C1016.5,2139.7 1014.8,2138.3 1017.9,2138.5 C1021.1,2138.8 1019.2,2139.5 1022.4,2139.4 C1025.5,2139.3 1024,2136.6 1027.4,2138.2 C1030.8,2139.8 1028.9,2142.1 1032.5,2144.2 C1036.1,2146.2 1034.8,2144 1038.2,2144.4 C1041.6,2144.8 1039.5,2145.3 1042.7,2145.5 C1045.8,2145.7 1044.1,2145.5 1047.6,2144.9 C1051.1,2144.4 1049.6,2144.2 1053.2,2143.8 C1056.9,2143.4 1055.1,2143.1 1058.6,2143.7 C1062.1,2144.3 1060.6,2144.8 1063.6,2145.6 C1066.6,2146.5 1064.7,2146.5 1067.7,2146.1 C1070.6,2145.8 1068.9,2146.3 1072.4,2144.7 C1075.9,2143 1075.1,2142.7 1078.2,2141.2 C1081.3,2139.7 1078.8,2141.3 1081.7,2140.2 C1084.7,2139 1083.9,2137.9 1086.9,2137.8 C1090,2137.6 1087.8,2140.5 1090.9,2139.8 C1093.9,2139 1092.4,2137.8 1096,2135.5 C1099.6,2133.2 1098.1,2134.5 1101.7,2132.9 C1105.4,2131.4 1103.7,2130.9 1106.9,2130.8 C1110.2,2130.8 1108,2132.3 1111.5,2132.8 C1114.9,2133.3 1113.9,2133.1 1117.3,2132.3 C1120.7,2131.6 1118.8,2131.9 1121.7,2130.5 C1124.7,2129.2 1123,2127.8 1126,2128.2 C1129,2128.7 1127.3,2130.7 1130.8,2131.9 C1134.2,2133.1 1132.6,2132.3 1136.4,2131.7 C1140.2,2131.2 1139,2130.3 1142.3,2130.2 C1145.5,2130.2 1143.5,2131.4 1146.2,2131.6 C1148.9,2131.8 1147.5,2130.3 1150.4,2130.9 C1153.3,2131.6 1151.8,2133 1154.9,2133.5 C1158,2134 1156.2,2131.5 1159.6,2132.4 C1163.1,2133.3 1161.8,2136.4 1165.2,2136.2 C1168.7,2136 1167.1,2132 1169.9,2131.9 C1172.6,2131.9 1171.1,2134.9 1173.5,2136.1 C1175.8,2137.3 1174.2,2136.3 1177.1,2135.5 C1179.9,2134.7 1178.5,2134.7 1182,2133.7 C1185.5,2132.8 1184.4,2132.2 1187.5,2132.7 C1190.6,2133.2 1188.8,2133.6 1191.3,2135.2 C1193.8,2136.9 1192.3,2137.7 1194.9,2137.5 C1197.4,2137.4 1196.4,2134.6 1199,2134.7 C1201.5,2134.8 1199.8,2136.5 1202.6,2137.8 C1205.3,2139.2 1203.9,2137.8 1207.2,2138.9 C1210.4,2139.9 1208.7,2140 1212.3,2141 C1216,2142.1 1214.9,2141.7 1218.2,2142 C1221.5,2142.4 1219.6,2142.5 1222.2,2142.1 C1224.9,2141.7 1223.3,2139.7 1226.2,2140.8 C1229,2141.9 1228,2144.4 1230.9,2145.4 C1233.7,2146.5 1232,2143.5 1234.8,2144 C1237.6,2144.4 1236.1,2145.8 1239.2,2146.7 C1242.2,2147.6 1240.6,2147 1244,2146.6 C1247.4,2146.2 1245.7,2145.2 1249.4,2145.4 C1253,2145.6 1251.8,2146.9 1254.8,2147.3 C1257.9,2147.8 1255.5,2148.7 1258.6,2146.7 C1261.6,2144.7 1260.5,2142.8 1263.9,2141.3 C1267.2,2139.8 1265,2143.1 1268.5,2142.3 C1272,2141.5 1270.7,2139.8 1274.3,2138.9 C1277.8,2138 1275.7,2139.9 1279.2,2139.5 C1282.7,2139.1 1281.3,2139.4 1284.7,2137.8 C1288.1,2136.2 1286.5,2136 1289.3,2134.7 C1292.2,2133.4 1290.2,2134.7 1293.4,2133.9 C1296.5,2133 1295.3,2133.7 1298.9,2132.1 C1302.5,2130.6 1300.5,2129 1304.2,2129.1 C1307.9,2129.3 1306,2132.1 1309.9,2132.5 C1313.8,2132.9 1312.1,2131.3 1315.9,2130.3 C1319.7,2129.3 1317.6,2128.7 1321.4,2129.5 C1325.1,2130.3 1323.8,2132.8 1327.1,2132.8 C1330.5,2132.7 1328.5,2129.6 1331.5,2129.4 C1334.5,2129.3 1332.8,2131.3 1336.1,2132.3 C1339.5,2133.4 1338.5,2131.9 1341.5,2132.7 C1344.5,2133.4 1342.7,2133.9 1345.1,2134.7 C1347.5,2135.4 1346.2,2135.5 1348.8,2134.9 C1351.3,2134.4 1349.6,2133.8 1352.7,2132.9 C1355.8,2132 1355.1,2131.8 1358.2,2132.3 C1361.3,2132.8 1359,2133 1362,2134.4 C1365.1,2135.7 1363.8,2135.3 1367.3,2136.2 C1370.9,2137.1 1369.3,2136.7 1372.6,2137.1 C1375.9,2137.5 1374.5,2138.4 1377.3,2137.5 C1380.1,2136.6 1378.2,2135 1381,2134.3 C1383.9,2133.5 1382.5,2134 1385.8,2135.3 C1389.2,2136.5 1387.8,2136.4 1391.2,2138 C1394.5,2139.6 1392.7,2139.9 1396,2140.1 C1399.2,2140.3 1397.7,2137.9 1400.9,2138.7 C1404,2139.5 1401.9,2141.8 1405.3,2142.6 C1408.7,2143.3 1407.3,2139.8 1411.1,2141 C1414.9,2142.2 1413.2,2144.8 1416.7,2146.2 C1420.2,2147.6 1418.6,2145.4 1421.5,2145.2 C1424.4,2145.1 1422.6,2145.3 1425.5,2145.7 C1428.4,2146.1 1427.5,2145.6 1430.3,2146.5 C1433,2147.4 1431,2148.8 1433.8,2148.4 C1436.6,2148 1437,2146.4 1438.6,2145.3" fill="none" stroke="#66d966" stroke-width="3.2" stroke-linejoin="round" stroke-linecap="round"/>
<path d="M583,2131.7 q-3.7,-2.7 -7.1,0.4M583,2131.7 q-2.3,-2.9 -5.7,-1.3M587.9,2134.7 q-2.6,2.4 -0.7,5.5M592.6,2133.1 q-4.6,-1.4 -7,2.8M592.6,2133.1 q-3,-1.8 -5.4,0.7M597.5,2131.9 q-1,-4.9 -6,-5M597.5,2131.9 q1.8,-1.5 0.8,-3.6M602.3,2134.5 q-2,3.6 1,6.3M602.3,2134.5 q-4,0.7 -4.2,4.8M607.8,2132.1 q1.4,-2.3 -0.5,-4.1M607.8,2132.1 q-1.8,2.2 -0,4.4M612.1,2132.3 q-3.4,-1.1 -5.2,2M617.6,2135.6 q-2,-2.2 -4.6,-0.8M621.2,2137.3 q-0.4,-3 -3.3,-3.2M627.1,2136.2 q2.8,-0.6 2.9,-3.5M635.7,2136.8 q1.8,-2.6 -0.3,-4.9M643.4,2135.9 q-3.1,1.5 -2.3,4.8M648.1,2139.1 q2.9,2.2 5.7,-0.1M653.7,2141 q-1.7,2.5 0.3,4.7M658.8,2142.3 q1.1,3.2 4.5,2.8M663.9,2143.5 q1.6,-1.1 0.8,-2.9M668.1,2147.1 q0.4,-1.7 -1.2,-2.5M674.1,2147.3 q0.7,-3.3 -2.4,-4.7M683.5,2145 q-2.6,-2.2 -5.3,-0.2M687.2,2147.1 q0.5,-2 -1.4,-3M691.7,2146.9 q0.5,1.8 2.4,1.7M701.7,2140.1 q-1,-1.9 -3.1,-1.3M705.8,2143.2 q-1.1,3 1.6,4.8M720,2137.2 q1.9,3.2 5.4,2M724.2,2132.3 q1.6,-1.6 0.4,-3.6M728.5,2135.3 q-2,-1.9 -4.3,-0.4M733.9,2129.7 q3.4,3.1 7.1,0.5M738,2128.9 q-0.7,3.5 2.5,4.9M738,2128.9 q-3,-0.4 -4,2.5M741.7,2131.9 q-1.9,-1.8 -4.1,-0.3M741.7,2131.9 q3.6,-2.1 2.3,-6.1M745.6,2130.4 q-0.5,-3.5 -4,-3.8M745.6,2130.4 q-4.1,-3.5 -8.4,-0.2M750.2,2128.5 q-3.1,3.5 -0.4,7.3M750.2,2128.5 q3.4,-2.9 1.3,-6.8M755.6,2128.4 q4.9,0.4 6.3,-4.3M755.6,2128.4 q3.1,-3 0.8,-6.7M760.7,2128.8 q1.2,-2.2 -0.7,-3.8M760.7,2128.8 q-2.3,-1.2 -4,0.7M765.2,2129.8 q-0.3,-4.1 -4.4,-4.7M765.2,2129.8 q4.1,1.6 6.6,-2.1M769.4,2134.1 q0.2,-3.9 -3.5,-5M769.4,2134.1 q-5.2,-0.2 -6.5,4.9M774.9,2131.5 q1.4,-4.1 -2.2,-6.4M780.6,2131.6 q-1,-4.4 -5.5,-4.4M780.6,2131.6 q-2.6,-0.3 -3.4,2.2M785.1,2135.2 q-2.7,0.1 -3.2,2.8M785.1,2135.2 q4,0.5 5.4,-3.3M790.2,2131.8 q3.7,2 6.4,-1.2M796.2,2132.7 q2.2,-1.2 1.6,-3.6M796.2,2132.7 q1.6,-1.8 0.2,-3.8M800.3,2135.7 q-0.2,3.6 3.3,4.7M804.6,2133.6 q-3.4,-2.6 -6.7,0.2M808.3,2132.8 q2.5,1 4,-1.3M813.3,2134 q-0.8,-2.4 -3.3,-2.1M818.3,2135.2 q0.1,-2.8 -2.6,-3.5M822.9,2138.8 q1,-2 -0.8,-3.4M827.6,2137.8 q-1.1,1.4 0.1,2.8M833.3,2137.1 q1.6,-1.8 0.1,-3.8M846.7,2143.5 q3.1,2.1 5.8,-0.4M852.6,2142.3 q2.6,0.3 3.6,-2.2M858.4,2147 q2.1,1.2 3.7,-0.6M863.4,2145.3 q3.1,1 4.8,-1.8M867.2,2143.7 q3,1.8 5.4,-0.7M878.4,2144.2 q-0.4,-2.6 -3.1,-2.8M883.9,2144.7 q1.6,2.4 4.3,1.3M888.2,2141.4 q-3,-1.1 -4.7,1.6M893.5,2139.1 q-1.9,2 -0.4,4.3M897.5,2140.1 q2,-1.7 0.8,-4.1M915.5,2133 q0.8,3.4 4.3,3.4M919.2,2130.6 q-0.6,-3.4 -4,-3.6M923.6,2131.6 q0.9,-3.7 -2.6,-5.4M927.5,2130 q-0.5,-4.4 -5,-4.9M927.5,2130 q-3,3.8 0.1,7.6M933.2,2132.5 q2.5,-0.1 3,-2.6M933.2,2132.5 q-2.5,2.3 -0.8,5.3M938.3,2131 q1.2,3.8 5.1,3.5M938.3,2131 q1.7,4 6,3.3M943.3,2128.5 q-0.4,-3.4 -3.9,-3.8M943.3,2128.5 q-1.3,3 1.4,4.8M946.9,2128.1 q2.5,-0.7 2.3,-3.3M946.9,2128.1 q3.5,-1.9 2.5,-5.7M952.6,2132.2 q-1.4,3.1 1.4,5.2M952.6,2132.2 q2.9,-1.5 2.1,-4.7M958.6,2129.5 q2.9,2 5.5,-0.3M958.6,2129.5 q2.8,-3.7 -0.2,-7.3M963.6,2132.4 q-2.7,0.3 -3,2.9M963.6,2132.4 q1.2,2.5 3.9,1.9M969,2132.2 q-3.8,-2.5 -7.1,0.6M969,2132.2 q1.9,-1.7 0.7,-3.9M975,2131.5 q0.2,-2.6 -2.3,-3.3M975,2131.5 q2,-3.6 -1.1,-6.3M979.8,2135.1 q0.2,3.4 3.5,3.9M979.8,2135.1 q-2.7,0.3 -3,3M985.6,2135.4 q-2.5,-4.5 -7.4,-3.1M985.6,2135.4 q3.7,0.7 5.1,-2.8M990.8,2136 q-2.8,1.6 -1.8,4.6M996.6,2134.1 q3.4,1.1 5.2,-2M1001.8,2137.3 q-2.4,0.3 -2.6,2.8M1007.5,2135.6 q-2.6,-0.2 -3.3,2.3M1013,2138.7 q-1.7,-2.9 -5,-1.9M1017.9,2138.5 q2.7,-0.8 2.4,-3.6M1022.4,2139.4 q2.2,-2.4 0.3,-5.1M1027.4,2138.2 q2,2.1 4.5,0.6M1032.5,2144.2 q-1.8,-3.2 -5.4,-2.2M1047.6,2144.9 q-2,-2.8 -5.1,-1.4M1053.2,2143.8 q1.3,3 4.5,2.3M1063.6,2145.6 q-0.2,-2.1 -2.3,-2.3M1078.2,2141.2 q-1.4,2.7 1,4.7M1081.7,2140.2 q1.7,-1.7 0.4,-3.7M1086.9,2137.8 q2.8,1.5 4.9,-0.9M1090.9,2139.8 q-2.1,-2.5 -5,-1.1M1106.9,2130.8 q3.8,-1.5 3.2,-5.6M1111.5,2132.8 q4,-2.2 2.7,-6.6M1117.3,2132.3 q4,1.8 6.6,-1.6M1117.3,2132.3 q1.7,-4.1 -1.9,-6.6M1121.7,2130.5 q-2.8,-0.6 -4.1,2M1121.7,2130.5 q3,2.1 5.7,-0.3M1126,2128.2 q-1.2,3.2 1.7,5.1M1126,2128.2 q2.4,1.3 4.2,-0.7M1130.8,2131.9 q1,4.1 5.2,4.1M1130.8,2131.9 q-0.5,2.5 1.8,3.5M1136.4,2131.7 q-2,-4.6 -7,-3.7M1136.4,2131.7 q0.8,2.9 3.7,2.7M1142.3,2130.2 q-2.3,3.5 0.7,6.5M1142.3,2130.2 q-1.3,2.5 0.8,4.3M1146.2,2131.6 q-0.6,4.3 3.5,5.9M1146.2,2131.6 q-2.8,-4 -7.3,-2.1M1150.4,2130.9 q-3.1,3.4 -0.5,7.2M1150.4,2130.9 q-3.7,1 -3.5,4.9M1154.9,2133.5 q-1.1,2.2 0.8,3.7M1159.6,2132.4 q2.9,-1.7 1.8,-4.9M1159.6,2132.4 q-2.4,-2.3 -5.2,-0.5M1165.2,2136.2 q-1.3,1.9 0.3,3.6M1169.9,2131.9 q-4.6,0.4 -5.2,4.9M1169.9,2131.9 q-0.8,-2.8 -3.7,-2.6M1173.5,2136.1 q-2.8,1.2 -2.3,4.2M1173.5,2136.1 q-3.2,-3 -6.8,-0.6M1182,2133.7 q-1.4,-1.7 -3.4,-0.7M1191.3,2135.2 q3,-1.3 2.4,-4.5M1199,2134.7 q-2.2,2 -0.6,4.6M1202.6,2137.8 q-2.4,-1.5 -4.4,0.5M1222.2,2142.1 q2,-1.4 1,-3.7M1230.9,2145.4 q2,-0.8 1.7,-2.9M1234.8,2144 q-1.5,-1.6 -3.4,-0.5M1244,2146.6 q-1.7,0.9 -1.2,2.7M1249.4,2145.4 q-2.9,-1.5 -5,0.9M1254.8,2147.3 q0.5,-1.9 -1.3,-2.8M1258.6,2146.7 q-3.4,-1.7 -5.7,1.3M1274.3,2138.9 q-3.1,0.1 -3.7,3.2M1279.2,2139.5 q-1.4,-2.4 -4,-1.5M1284.7,2137.8 q2.8,2 5.4,-0.3M1289.3,2134.7 q-0.5,-2.3 -2.9,-2.3M1293.4,2133.9 q-1.5,-1.9 -3.8,-0.9M1298.9,2132.1 q-4.3,-0.2 -5.5,3.9M1304.2,2129.1 q-1.4,4 2.3,6.2M1304.2,2129.1 q3.9,1.5 6.1,-2M1309.9,2132.5 q-4.3,1.5 -3.8,6.1M1309.9,2132.5 q0.2,2.7 2.8,3.1M1315.9,2130.3 q1,-2.6 -1.2,-4.2M1315.9,2130.3 q3.8,-1.2 3.5,-5.1M1321.4,2129.5 q-1.3,2.4 0.7,4.2M1321.4,2129.5 q-2.7,-0.4 -3.6,2.2M1327.1,2132.8 q-3.8,-1 -5.7,2.5M1327.1,2132.8 q3.2,-3.1 0.8,-6.9M1331.5,2129.4 q-3.3,1.2 -2.9,4.6M1331.5,2129.4 q-4.4,-0.4 -5.8,3.8M1336.1,2132.3 q0.2,-4 -3.6,-5.1M1341.5,2132.7 q-3.1,1.1 -2.7,4.4M1341.5,2132.7 q1,3.4 4.5,3.2M1345.1,2134.7 q3.6,-2.6 1.9,-6.7M1345.1,2134.7 q-0.2,4.4 4.1,5.6M1348.8,2134.9 q-2.1,-2.9 -5.3,-1.5M1348.8,2134.9 q0.2,4.3 4.5,5M1352.7,2132.9 q1.9,-4.1 -1.7,-6.8M1358.2,2132.3 q4,1.5 6.4,-2.1M1358.2,2132.3 q1.3,2.9 4.4,2.3M1362,2134.4 q1,-3 -1.8,-4.7M1362,2134.4 q-3.6,0.5 -3.9,4.2M1367.3,2136.2 q2.5,1.5 4.5,-0.7M1377.3,2137.5 q-1.5,-2.5 -4.3,-1.6M1381,2134.3 q3.7,0.6 5,-2.9M1396,2140.1 q2.1,-0.9 1.7,-3.1M1405.3,2142.6 q-1.6,-3.1 -4.9,-2.2M1411.1,2141 q-1.2,-1.7 -3.1,-0.9M1416.7,2146.2 q-0.7,3.4 2.5,4.9M1430.3,2146.5 q0.4,-3.1 -2.5,-4.1M1433.8,2148.4 q-1.2,-3.1 -4.5,-2.7M1438.6,2145.3 q-0.8,2.4 1.4,3.8" fill="none" stroke="#66d966" stroke-width="2.6" stroke-linecap="round"/>
<path d="M610.1,2136 q9,1 15,8 q5,6 2,13 q-2,3 -5,1" fill="none" stroke="#66d966" stroke-width="2.8" stroke-linecap="round"/>
<path d="M798.1,2136 q9,1 15,8 q5,6 2,13 q-2,3 -5,1" fill="none" stroke="#66d966" stroke-width="2.8" stroke-linecap="round"/>
<path d="M986.1,2136 q9,1 15,8 q5,6 2,13 q-2,3 -5,1" fill="none" stroke="#66d966" stroke-width="2.8" stroke-linecap="round"/>
<path d="M1174.1,2136 q9,1 15,8 q5,6 2,13 q-2,3 -5,1" fill="none" stroke="#66d966" stroke-width="2.8" stroke-linecap="round"/>
<path d="M1362.1,2136 q9,1 15,8 q5,6 2,13 q-2,3 -5,1" fill="none" stroke="#66d966" stroke-width="2.8" stroke-linecap="round"/>
<path d="M583,2190.4 C584.7,2191.2 585.1,2192.8 588.1,2192.8 C591.1,2192.8 589.2,2190.5 592,2190.5 C594.8,2190.5 593.1,2191 596.4,2192.8 C599.8,2194.6 598.5,2194.9 602,2195.9 C605.5,2196.9 603.6,2196.4 607,2195.8 C610.4,2195.1 608.9,2194.5 612.1,2193.9 C615.4,2193.2 613.3,2194.2 616.7,2193.8 C620.2,2193.4 618.7,2193.3 622.5,2192.6 C626.3,2191.8 624.4,2191.9 628,2191.5 C631.6,2191.1 630,2191.1 633.2,2191.4 C636.5,2191.7 635.1,2193.8 637.8,2192.4 C640.4,2191 638.2,2189 641.3,2187.2 C644.4,2185.5 643.9,2186.9 647.1,2187.2 C650.3,2187.5 647.6,2190 650.8,2188.1 C654,2186.1 653.2,2184.1 656.7,2181.3 C660.2,2178.5 658.3,2179.9 661.2,2179.7 C664.2,2179.4 662.8,2180.6 665.5,2180.6 C668.3,2180.6 666.9,2181.2 669.4,2179.7 C671.9,2178.2 670,2177.3 673.1,2176.1 C676.1,2174.8 675.2,2175.9 678.6,2176 C682,2176 680.1,2176.7 683.2,2176.2 C686.2,2175.8 685.1,2174.7 687.8,2174.7 C690.6,2174.7 688.3,2175.3 691.4,2176.2 C694.6,2177.2 693.6,2178 697.3,2177.5 C701,2177 699.3,2174.9 702.5,2174.7 C705.7,2174.4 703.7,2176.8 706.9,2176.7 C710.1,2176.7 709,2174.6 712.1,2174.4 C715.2,2174.3 713.2,2174.7 716.2,2176.2 C719.1,2177.8 717.8,2179.2 721,2179.1 C724.1,2178.9 722.3,2176 725.7,2175.8 C729.1,2175.6 727.8,2177.7 731.3,2178.4 C734.7,2179.1 732.9,2177.7 736.1,2177.9 C739.2,2178.1 737.3,2179.1 740.6,2179.1 C744,2179.2 742.6,2178.2 746.1,2178.1 C749.5,2177.9 747.6,2178.7 750.9,2178.7 C754.3,2178.8 753,2177.9 756.2,2178.3 C759.3,2178.7 757.3,2179.8 760.4,2180.1 C763.5,2180.3 762.2,2178.9 765.5,2178.9 C768.7,2178.9 767.2,2179.1 770.1,2180.1 C773.1,2181 770.9,2181 774.3,2181.8 C777.7,2182.7 776.3,2182.6 780.2,2182.6 C784.1,2182.7 782.2,2181.5 786.1,2182.1 C790,2182.7 788.6,2182.6 791.9,2184.3 C795.2,2186 792.6,2187 795.9,2187.2 C799.1,2187.5 798.3,2184.1 801.7,2185.1 C805,2186 803,2188.9 805.8,2190.1 C808.7,2191.3 807.6,2189.2 810.2,2188.7 C812.8,2188.3 810.8,2186.7 813.7,2188.7 C816.6,2190.8 815.1,2193.1 818.8,2194.8 C822.4,2196.5 821.6,2194.2 824.8,2193.8 C827.9,2193.4 825.3,2192.6 828.3,2193.6 C831.3,2194.6 830.3,2196.7 833.8,2196.9 C837.3,2197.1 835.6,2194.8 838.9,2194.3 C842.2,2193.8 840.4,2195.6 843.7,2195.5 C847,2195.4 845.1,2193.8 848.8,2194 C852.4,2194.2 851.4,2196.8 854.6,2196.2 C857.9,2195.6 855.3,2194.1 858.5,2192.2 C861.7,2190.3 860.4,2191.4 864.2,2190.5 C868.1,2189.6 866.4,2190.2 870.1,2189.6 C873.8,2188.9 872.2,2190.1 875.3,2188.5 C878.4,2186.9 876.6,2185.9 879.4,2184.7 C882.1,2183.6 880.4,2186.6 883.5,2185 C886.6,2183.5 885.1,2182 888.7,2180.2 C892.4,2178.4 891.2,2180.2 894.4,2179.6 C897.7,2179 895.2,2179.1 898.5,2178.4 C901.9,2177.7 900.8,2177.5 904.5,2177.4 C908.2,2177.4 905.9,2178.5 909.6,2178.2 C913.2,2178 912,2177.6 915.5,2176.7 C918.9,2175.8 916.6,2175.6 920,2175.6 C923.4,2175.5 922.2,2176.9 925.8,2176.5 C929.3,2176.2 927.6,2174.4 930.7,2174.6 C933.8,2174.7 932,2177.1 935.1,2176.9 C938.2,2176.6 936.6,2173.1 940,2173.8 C943.4,2174.5 941.7,2177 945.3,2178.9 C948.9,2180.9 947,2179.7 950.8,2179.6 C954.6,2179.5 952.8,2179 956.6,2178.5 C960.3,2178.1 959,2178.4 962.1,2178.4 C965.1,2178.4 963.1,2177.5 965.8,2178.6 C968.5,2179.8 966.9,2181.3 970.1,2181.9 C973.2,2182.4 971.9,2181.4 975.3,2180.3 C978.7,2179.1 977.1,2178 980.4,2178.5 C983.7,2178.9 982.1,2181.3 985.2,2181.6 C988.3,2182 986.7,2180 989.7,2179.6 C992.7,2179.1 991,2180.2 994.2,2180.3 C997.4,2180.3 996.4,2179.5 999.4,2179.8 C1002.4,2180 1000.1,2179.6 1003.1,2181 C1006.1,2182.4 1004.9,2182.4 1008.4,2183.9 C1011.8,2185.5 1010.3,2186.3 1013.5,2185.6 C1016.7,2185 1014.9,2182.1 1017.9,2182 C1021,2181.8 1019.8,2183.4 1022.7,2185.1 C1025.5,2186.9 1023.8,2186.9 1026.6,2187.3 C1029.4,2187.7 1028.1,2185 1031,2186.3 C1033.9,2187.6 1032.7,2190.1 1035.3,2191.1 C1037.9,2192 1036.2,2189.7 1038.8,2189.2 C1041.4,2188.7 1040.1,2189 1043,2189.6 C1045.9,2190.2 1044.1,2189.6 1047.6,2191 C1051,2192.3 1049.7,2193 1053.4,2193.7 C1057.1,2194.4 1055.3,2192.3 1058.6,2193 C1061.9,2193.7 1059.9,2195.4 1063.3,2195.9 C1066.7,2196.3 1065.5,2193.9 1068.9,2194.4 C1072.3,2194.9 1070.1,2197.6 1073.5,2197.3 C1076.9,2197.1 1075.6,2194.3 1079.1,2193.6 C1082.6,2193 1080.9,2195.4 1084,2195.4 C1087.1,2195.5 1085.2,2194.4 1088.5,2193.9 C1091.7,2193.4 1090.3,2194.9 1093.6,2193.8 C1097,2192.7 1095.4,2192.2 1098.5,2190.6 C1101.6,2189.1 1100,2190.6 1102.9,2189.2 C1105.8,2187.8 1104.3,2188.2 1107.2,2186.3 C1110.1,2184.4 1108.8,2185.1 1111.6,2183.5 C1114.3,2182 1112.5,2182.8 1115.4,2181.6 C1118.3,2180.4 1117.5,2180 1120.3,2179.9 C1123.1,2179.8 1121.3,2181.1 1123.9,2181.4 C1126.5,2181.7 1125,2182.3 1128.1,2180.7 C1131.2,2179.2 1129.5,2177.5 1133.1,2176.7 C1136.7,2175.8 1135.5,2179.1 1138.8,2178.1 C1142.1,2177.1 1140,2174.1 1143.1,2173.7 C1146.2,2173.2 1144.8,2175.9 1148.2,2176.9 C1151.6,2177.8 1150,2176.8 1153.2,2176.5 C1156.4,2176.1 1154.8,2176.3 1157.7,2175.8 C1160.6,2175.3 1159,2175.2 1161.9,2175 C1164.8,2174.9 1163.4,2174.4 1166.4,2175.4 C1169.3,2176.3 1168,2178 1170.8,2178 C1173.7,2178 1172.1,2174.9 1174.8,2175.5 C1177.5,2176.1 1175.9,2179.7 1178.9,2179.9 C1181.9,2180 1180.3,2175.6 1183.7,2175.9 C1187.2,2176.2 1185.6,2179.7 1189.3,2180.7 C1193,2181.6 1191.2,2179.3 1194.9,2178.7 C1198.5,2178 1197.1,2177.7 1200.2,2178.8 C1203.3,2179.9 1200.9,2181.8 1204,2181.9 C1207.2,2181.9 1205.9,2180.1 1209.6,2178.9 C1213.4,2177.7 1212,2178.4 1215.3,2178.3 C1218.6,2178.1 1216.9,2178.1 1219.6,2178.5 C1222.3,2178.9 1220.4,2178.8 1223.5,2179.5 C1226.6,2180.2 1225.7,2180.3 1228.8,2180.6 C1231.9,2180.9 1230,2179.2 1232.8,2180.4 C1235.5,2181.7 1234,2184.1 1237.1,2184.4 C1240.2,2184.7 1238.7,2181.3 1242.1,2181.4 C1245.5,2181.5 1244,2183.2 1247.3,2184.6 C1250.6,2186 1248.7,2184.4 1251.9,2185.6 C1255.2,2186.9 1253.7,2187.2 1257,2188.3 C1260.3,2189.4 1258.7,2188.2 1261.8,2188.8 C1265,2189.5 1263.4,2189.7 1266.5,2190.2 C1269.5,2190.7 1267.9,2189.4 1270.9,2190.4 C1274,2191.4 1272.7,2191.6 1275.7,2193.2 C1278.7,2194.8 1277,2194.4 1279.9,2195.3 C1282.9,2196.2 1281.3,2195.3 1284.7,2196 C1288,2196.7 1286.4,2197.6 1289.9,2197.3 C1293.4,2197.1 1291.9,2195.6 1295.1,2195.2 C1298.3,2194.8 1296.3,2195.6 1299.6,2196.2 C1302.9,2196.8 1301.9,2198.2 1305,2197.1 C1308.1,2195.9 1306.3,2194.4 1308.8,2192.7 C1311.3,2191.1 1310.1,2192.7 1312.6,2192.1 C1315.1,2191.5 1313.6,2191.5 1316.2,2190.9 C1318.8,2190.3 1317.2,2190.2 1320.4,2190.2 C1323.5,2190.3 1321.9,2190.9 1325.6,2191 C1329.3,2191.1 1327.7,2191.4 1331.5,2190.5 C1335.2,2189.6 1333.9,2190.7 1336.8,2188.3 C1339.8,2185.8 1337.3,2185.2 1340.4,2183.2 C1343.5,2181.2 1343,2182.5 1346.2,2182.1 C1349.5,2181.8 1347.4,2182.9 1350.2,2182.1 C1353.1,2181.2 1351.9,2181.2 1354.8,2179.5 C1357.8,2177.7 1356.4,2177.3 1359.1,2176.7 C1361.8,2176.1 1359.6,2177 1362.8,2177.6 C1366,2178.2 1364.9,2178.4 1368.7,2178.4 C1372.5,2178.4 1370.8,2178.9 1374.1,2177.5 C1377.4,2176.1 1375.1,2174.7 1378.5,2174.1 C1381.9,2173.5 1380.7,2176 1384.3,2175.6 C1388,2175.2 1386.4,2172.9 1389.5,2172.9 C1392.6,2173 1390.4,2174 1393.6,2175.7 C1396.7,2177.3 1395.3,2177.8 1398.9,2178 C1402.5,2178.2 1401,2175.7 1404.3,2176.2 C1407.6,2176.7 1405.3,2178.7 1408.7,2179.4 C1412.2,2180.1 1411.4,2178.3 1414.7,2178.3 C1418,2178.3 1415.8,2179.4 1418.7,2179.5 C1421.6,2179.6 1420.6,2178.8 1423.5,2178.6 C1426.5,2178.5 1424.6,2179.3 1427.6,2179.1 C1430.7,2178.9 1429.4,2177 1432.7,2178.2 C1435.9,2179.3 1434.1,2182.2 1437.5,2182.6 C1440.9,2183 1439.6,2180.6 1442.9,2179.4 C1446.2,2178.1 1444.1,2178 1447.4,2178.8 C1450.7,2179.7 1449.7,2180.9 1452.8,2181.8 C1455.8,2182.8 1453.7,2181.5 1456.7,2181.7 C1459.7,2181.9 1458.5,2182.4 1461.7,2182.4 C1464.8,2182.3 1463.2,2180.5 1466.1,2181.6 C1469.1,2182.7 1467.6,2184.9 1470.5,2185.8 C1473.4,2186.6 1473.4,2184.7 1474.8,2184.1" fill="none" stroke="#66d966" stroke-width="3.2" stroke-linejoin="round" stroke-linecap="round"/>
<path d="M583,2190.4 q-2.2,-0.2 -2.9,1.9M588.1,2192.8 q-2.4,0.3 -2.7,2.7M596.4,2192.8 q-2.8,1 -2.5,3.9M602,2195.9 q-2.3,-2.2 -4.9,-0.4M607,2195.8 q0.3,-1.9 -1.6,-2.6M612.1,2193.9 q3.1,-1.6 2.2,-5M622.5,2192.6 q-2.3,-0.8 -3.6,1.3M633.2,2191.4 q-0.9,2.7 1.6,4.2M647.1,2187.2 q2.5,1.2 4.2,-1M656.7,2181.3 q-2.3,-1.2 -4,0.8M669.4,2179.7 q-2.3,-2.4 -5.1,-0.8M673.1,2176.1 q0.3,-4 -3.5,-5.2M678.6,2176 q-3.2,0.6 -3.3,3.8M683.2,2176.2 q4.6,0.2 5.8,-4.3M683.2,2176.2 q4.5,2.4 7.9,-1.5M687.8,2174.7 q3.3,-1 3.1,-4.5M687.8,2174.7 q-2.3,2.5 -0.3,5.3M691.4,2176.2 q1.6,2.4 4.3,1.3M691.4,2176.2 q-0.1,2.7 2.5,3.4M697.3,2177.5 q-3.8,0.1 -4.5,3.8M697.3,2177.5 q2.8,0.8 4.3,-1.7M702.5,2174.7 q4.8,-0.7 5.2,-5.6M702.5,2174.7 q-2.4,-2.7 -5.6,-0.9M706.9,2176.7 q4.6,0.7 6.3,-3.6M706.9,2176.7 q2.5,-1.7 1.3,-4.5M712.1,2174.4 q2.8,0.4 3.7,-2.2M712.1,2174.4 q-1,4.4 3.1,6.4M716.2,2176.2 q-0.2,-3.6 -3.7,-4.2M716.2,2176.2 q-2.9,-2.2 -5.6,0.2M721,2179.1 q2.2,4.6 7.2,3.4M721,2179.1 q-2.5,-4.2 -7.2,-2.6M725.7,2175.8 q-2.4,-3.3 -6.1,-1.8M725.7,2175.8 q-4.9,0.4 -5.6,5.2M731.3,2178.4 q3.1,-2 1.8,-5.5M731.3,2178.4 q2.6,1.9 5,-0.3M736.1,2177.9 q3.7,-2.2 2.3,-6.3M736.1,2177.9 q3.1,-2.6 1.2,-6.3M740.6,2179.1 q-0,-3.4 -3.3,-4.1M740.6,2179.1 q1.2,2.6 4,2M746.1,2178.1 q2.5,1.5 4.6,-0.6M746.1,2178.1 q0.5,5 5.6,5.6M750.9,2178.7 q-0.8,4.5 3.4,6.2M750.9,2178.7 q2.7,1.7 5,-0.6M756.2,2178.3 q0.2,-3.1 -2.8,-4M760.4,2180.1 q1.4,-4.1 -2.2,-6.3M774.3,2181.8 q1.6,-1.9 0.1,-3.9M780.2,2182.6 q2.2,2.2 4.8,0.6M786.1,2182.1 q1,2.6 3.7,2.2M791.9,2184.3 q-2.6,1 -2.1,3.8M795.9,2187.2 q-2.5,-2.8 -5.9,-1M805.8,2190.1 q2.4,-0.2 2.7,-2.6M813.7,2188.7 q-3.1,1.4 -2.4,4.7M828.3,2193.6 q0.7,3.5 4.2,3.7M833.8,2196.9 q-0.4,2.5 1.9,3.4M858.5,2192.2 q2.4,0.4 3.4,-1.9M864.2,2190.5 q3.2,1.5 5.5,-1.3M875.3,2188.5 q-0.7,2 1,3.2M879.4,2184.7 q1,2.6 3.7,2.2M894.4,2179.6 q0.4,-2.6 -2,-3.5M904.5,2177.4 q4.2,2.8 7.8,-0.7M909.6,2178.2 q-1.1,-2.8 -4,-2.3M909.6,2178.2 q-2.8,-1.1 -4.4,1.4M915.5,2176.7 q-2.9,-0.5 -4.1,2.3M915.5,2176.7 q-4.7,1.8 -4,6.7M920,2175.6 q-2.7,-2.6 -5.9,-0.6M920,2175.6 q-1.6,4.6 2.6,7.1M925.8,2176.5 q-0,-4.1 -4.1,-5M925.8,2176.5 q-1.9,-2.4 -4.6,-1.1M930.7,2174.6 q-1.1,-2.7 -4.1,-2.2M930.7,2174.6 q1.8,-3.1 -0.8,-5.5M935.1,2176.9 q-0.1,2.6 2.4,3.3M935.1,2176.9 q-1.1,-4.2 -5.5,-4M940,2173.8 q0.1,5 5,6.1M940,2173.8 q2.9,0.4 3.9,-2.3M945.3,2178.9 q-1.9,-2.6 -4.9,-1.4M945.3,2178.9 q-1.7,1.8 -0.3,3.9M950.8,2179.6 q-3.5,3.2 -1.1,7.4M950.8,2179.6 q0.4,-3.5 -2.9,-4.7M956.6,2178.5 q2.6,-0.9 2.2,-3.6M956.6,2178.5 q-4.7,-1.5 -7.2,2.8M962.1,2178.4 q2.6,4.4 7.5,2.8M962.1,2178.4 q1.4,-2.3 -0.5,-4.1M965.8,2178.6 q-1.3,3.2 1.6,5.2M965.8,2178.6 q3.7,-1.1 3.4,-4.9M970.1,2181.9 q-0.5,3.1 2.4,4.3M970.1,2181.9 q2.5,0.5 3.6,-1.9M975.3,2180.3 q2.7,1.3 4.5,-1M975.3,2180.3 q-3.3,3.3 -0.8,7.2M980.4,2178.5 q1.2,-2.3 -0.8,-4M980.4,2178.5 q-0.5,3.9 3.3,5.2M985.2,2181.6 q3.6,-0.1 4.3,-3.7M994.2,2180.3 q3.4,1.4 5.5,-1.6M1003.1,2181 q-2.2,2 -0.7,4.5M1013.5,2185.6 q1.8,-1.8 0.5,-4M1017.9,2182 q0.7,1.7 2.6,1.4M1022.7,2185.1 q3,0.9 4.6,-1.9M1035.3,2191.1 q0.9,-2.8 -1.6,-4.2M1043,2189.6 q2.1,0.1 2.7,-2M1047.6,2191 q0.7,-3 -2,-4.4M1058.6,2193 q-2.6,1.6 -1.5,4.5M1063.3,2195.9 q2.4,-0.2 2.8,-2.5M1068.9,2194.4 q-2.7,1.3 -2,4.3M1073.5,2197.3 q0.2,1.9 2.1,2.2M1079.1,2193.6 q-0.6,-3.6 -4.3,-3.8M1084,2195.4 q-2.3,-1.2 -4,0.9M1088.5,2193.9 q-1.9,0.5 -1.8,2.5M1093.6,2193.8 q-1.3,1.3 -0.3,2.8M1098.5,2190.6 q3.1,0.8 4.6,-2M1115.4,2181.6 q1,3.5 4.6,3.4M1128.1,2180.7 q2.2,-1.5 1.2,-4M1133.1,2176.7 q-1.9,4.5 2.1,7.3M1138.8,2178.1 q1,2.5 3.7,2.1M1138.8,2178.1 q-3.6,0.7 -3.7,4.4M1143.1,2173.7 q-0.7,3.6 2.7,5.1M1143.1,2173.7 q-0.6,2.7 1.8,3.9M1148.2,2176.9 q0.6,2.6 3.2,2.5M1148.2,2176.9 q2.6,3.8 6.9,2.1M1153.2,2176.5 q1.7,-4.5 -2.3,-7.2M1153.2,2176.5 q-3.6,-0.8 -5.2,2.5M1157.7,2175.8 q2.5,-0.4 2.7,-2.9M1161.9,2175 q2.3,1.5 4.3,-0.4M1161.9,2175 q4.3,2.2 7.3,-1.5M1166.4,2175.4 q-0.1,-3.7 -3.7,-4.5M1166.4,2175.4 q-1.7,-3.7 -5.7,-2.7M1170.8,2178 q-0.6,-4 -4.6,-4.3M1170.8,2178 q2.3,-2.1 0.8,-4.9M1174.8,2175.5 q-1.9,3 0.6,5.5M1174.8,2175.5 q1.2,-2.2 -0.6,-3.9M1178.9,2179.9 q-0.8,3.9 2.8,5.6M1178.9,2179.9 q-2.7,-4.3 -7.4,-2.6M1183.7,2175.9 q-1.8,3.4 1.1,5.9M1183.7,2175.9 q-2.9,-0.9 -4.4,1.7M1189.3,2180.7 q-4.9,1.2 -4.7,6.3M1189.3,2180.7 q1,-4.7 -3.4,-6.7M1194.9,2178.7 q2.7,0.7 4,-1.8M1200.2,2178.8 q2.4,-1.8 1.2,-4.5M1200.2,2178.8 q-1.9,-3.3 -5.6,-2.1M1204,2181.9 q-4,-1.8 -6.7,1.7M1204,2181.9 q3.3,2.9 6.9,0.2M1209.6,2178.9 q3.9,-0.4 4.3,-4.3M1209.6,2178.9 q0.1,2.9 3,3.5M1215.3,2178.3 q2.6,4.4 7.4,2.8M1219.6,2178.5 q-4.2,0 -5.1,4.1M1223.5,2179.5 q-3.2,-1.2 -5.1,1.6M1228.8,2180.6 q-0.3,1.8 1.4,2.6M1237.1,2184.4 q0.4,-2.9 -2.4,-3.9M1242.1,2181.4 q-1.7,-2.7 -4.7,-1.6M1247.3,2184.6 q-2,2.7 0.2,5.2M1251.9,2185.6 q-2.3,-1.6 -4.4,0.3M1275.7,2193.2 q1.1,2.7 4,2.3M1279.9,2195.3 q1.6,-1.8 0.2,-3.7M1284.7,2196 q-3.4,0 -4.1,3.3M1289.9,2197.3 q0.2,-1.9 -1.6,-2.5M1295.1,2195.2 q-1.8,1.8 -0.4,4M1299.6,2196.2 q2.4,0.9 3.8,-1.2M1305,2197.1 q-1.5,2.1 0.3,4M1316.2,2190.9 q3.1,1.7 5.5,-0.9M1320.4,2190.2 q-0.1,-2.4 -2.4,-2.8M1325.6,2191 q2.8,2.5 5.9,0.3M1336.8,2188.3 q-0.8,-2.6 -3.6,-2.4M1346.2,2182.1 q1.3,-1.5 0.1,-3.2M1359.1,2176.7 q-0.7,-2.9 -3.6,-2.9M1362.8,2177.6 q-4,0.3 -4.6,4.2M1368.7,2178.4 q2.4,1.5 4.4,-0.6M1368.7,2178.4 q-4.1,2 -3.1,6.5M1374.1,2177.5 q4.7,0.7 6.4,-3.6M1374.1,2177.5 q2.8,-2.9 0.6,-6.3M1378.5,2174.1 q-2.3,1.5 -1.3,4M1378.5,2174.1 q-3.3,-0.2 -4.2,2.9M1384.3,2175.6 q2.5,1.7 4.6,-0.4M1384.3,2175.6 q-2.2,3.8 1,6.7M1389.5,2172.9 q2.8,-2.7 0.8,-5.9M1389.5,2172.9 q2.6,-0.5 2.7,-3.2M1393.6,2175.7 q3,1.4 5,-1.2M1393.6,2175.7 q0.7,-4 -3.1,-5.6M1398.9,2178 q-4.9,-1 -6.9,3.6M1398.9,2178 q-0.6,4.1 3.3,5.6M1404.3,2176.2 q-1.5,-4.7 -6.4,-4.3M1404.3,2176.2 q-3.7,2.7 -1.9,6.9M1408.7,2179.4 q0.4,2.8 3.3,3M1408.7,2179.4 q2.7,-1.1 2.2,-3.9M1414.7,2178.3 q-1.2,3.8 2.2,5.8M1414.7,2178.3 q-2,-4.2 -6.5,-3.1M1418.7,2179.5 q-0.4,-2.7 -3.1,-2.9M1418.7,2179.5 q2.6,-2 1.2,-5M1423.5,2178.6 q-1.5,-4.5 -6.2,-4M1423.5,2178.6 q-3.9,2.2 -2.6,6.5M1427.6,2179.1 q-4.4,-1.2 -6.5,2.9M1427.6,2179.1 q-1.5,-3.1 -4.8,-2.3M1432.7,2178.2 q-4.1,2.2 -2.9,6.7M1432.7,2178.2 q-0.9,-3.8 -4.8,-3.7M1437.5,2182.6 q-0.6,4 3.2,5.5M1437.5,2182.6 q-3.6,1 -3.5,4.7M1442.9,2179.4 q-0.1,-4.5 -4.5,-5.4M1447.4,2178.8 q-0.3,5 4.4,6.4M1456.7,2181.7 q1.1,2.7 4,2.3M1461.7,2182.4 q3.2,0.3 4.1,-2.8M1466.1,2181.6 q-2,-0.3 -2.7,1.6M1470.5,2185.8 q-1.9,-3 -5.3,-1.8M1474.8,2184.1 q2.1,1.1 3.7,-0.8" fill="none" stroke="#66d966" stroke-width="2.6" stroke-linecap="round"/>
</g>
</svg>
</body></html>
